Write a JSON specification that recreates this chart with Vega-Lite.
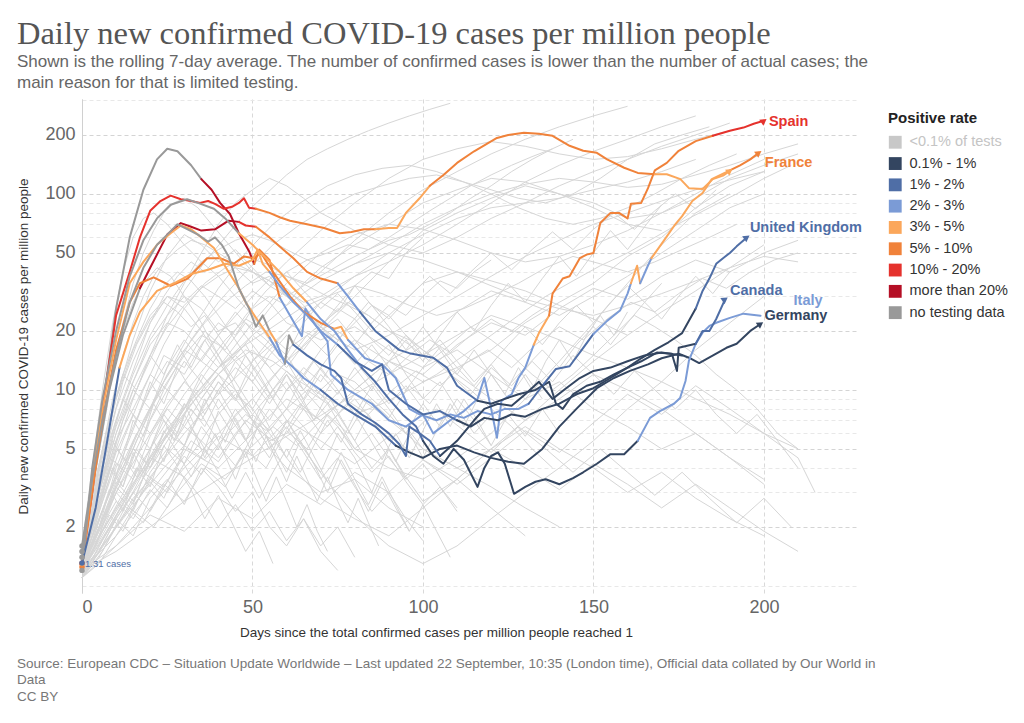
{
  "$schema": "https://vega.github.io/schema/vega-lite/v6.json",
  "background": "white",
  "padding": {"left": 16, "top": 17, "right": 5, "bottom": 5},
  "config": {"font": "Liberation Sans", "view": {"stroke": null}},
  "title": {
    "text": ["Source: European CDC – Situation Update Worldwide – Last updated 22 September, 10:35 (London time), Official data collated by Our World in", "Data", "CC BY"],
    "orient": "bottom", "anchor": "start", "frame": "bounds",
    "fontSize": 13.5, "fontWeight": "normal", "color": "#777", "lineHeight": 16.5, "offset": 18
  },
  "datasets": {
    "highlight": [
      {"country":"Spain","part":1,"rate":"no testing data","day":0,"cases":1.6},
      {"country":"Spain","part":1,"rate":"no testing data","day":3,"cases":3.5},
      {"country":"Spain","part":1,"rate":"no testing data","day":6,"cases":8},
      {"country":"Spain","part":1,"rate":"no testing data","day":10,"cases":26},
      {"country":"Spain","part":1,"rate":"no testing data","day":14,"cases":60},
      {"country":"Spain","part":1,"rate":"no testing data","day":18,"cases":105},
      {"country":"Spain","part":1,"rate":"no testing data","day":22,"cases":150},
      {"country":"Spain","part":1,"rate":"no testing data","day":25,"cases":170},
      {"country":"Spain","part":1,"rate":"no testing data","day":28,"cases":165},
      {"country":"Spain","part":1,"rate":"no testing data","day":32,"cases":140},
      {"country":"Spain","part":1,"rate":"no testing data","day":35,"cases":119},
      {"country":"Spain","part":2,"rate":"more than 20%","day":35,"cases":119},
      {"country":"Spain","part":2,"rate":"more than 20%","day":38,"cases":105},
      {"country":"Spain","part":2,"rate":"more than 20%","day":40.5,"cases":90},
      {"country":"Spain","part":2,"rate":"more than 20%","day":43.4,"cases":79},
      {"country":"Spain","part":2,"rate":"more than 20%","day":46,"cases":63},
      {"country":"Spain","part":2,"rate":"more than 20%","day":49,"cases":51},
      {"country":"Spain","part":2,"rate":"more than 20%","day":50.5,"cases":44},
      {"country":"Spain","part":3,"rate":"5% - 10%","day":50.5,"cases":44},
      {"country":"Spain","part":3,"rate":"5% - 10%","day":52,"cases":52},
      {"country":"Spain","part":3,"rate":"5% - 10%","day":55,"cases":46},
      {"country":"Spain","part":3,"rate":"5% - 10%","day":58,"cases":29.5},
      {"country":"Spain","part":4,"rate":"2% - 3%","day":58,"cases":29.5},
      {"country":"Spain","part":4,"rate":"2% - 3%","day":61,"cases":24},
      {"country":"Spain","part":4,"rate":"2% - 3%","day":64.5,"cases":18.8},
      {"country":"Spain","part":4,"rate":"2% - 3%","day":65.5,"cases":26},
      {"country":"Spain","part":4,"rate":"2% - 3%","day":68,"cases":22},
      {"country":"Spain","part":4,"rate":"2% - 3%","day":72,"cases":17.7},
      {"country":"Spain","part":4,"rate":"2% - 3%","day":73,"cases":12},
      {"country":"Spain","part":4,"rate":"2% - 3%","day":78,"cases":10},
      {"country":"Spain","part":4,"rate":"2% - 3%","day":85,"cases":8.5},
      {"country":"Spain","part":4,"rate":"2% - 3%","day":90,"cases":7},
      {"country":"Spain","part":4,"rate":"2% - 3%","day":95,"cases":6.5},
      {"country":"Spain","part":4,"rate":"2% - 3%","day":100,"cases":7.5},
      {"country":"Spain","part":4,"rate":"2% - 3%","day":103,"cases":6},
      {"country":"Spain","part":4,"rate":"2% - 3%","day":108,"cases":7},
      {"country":"Spain","part":4,"rate":"2% - 3%","day":112,"cases":7.8},
      {"country":"Spain","part":4,"rate":"2% - 3%","day":116,"cases":9},
      {"country":"Spain","part":4,"rate":"2% - 3%","day":118,"cases":11.5},
      {"country":"Spain","part":4,"rate":"2% - 3%","day":120,"cases":8},
      {"country":"Spain","part":4,"rate":"2% - 3%","day":121.7,"cases":5.7},
      {"country":"Spain","part":4,"rate":"2% - 3%","day":123,"cases":8.8},
      {"country":"Spain","part":4,"rate":"2% - 3%","day":126,"cases":9.5},
      {"country":"Spain","part":4,"rate":"2% - 3%","day":128,"cases":11.5},
      {"country":"Spain","part":4,"rate":"2% - 3%","day":130,"cases":13},
      {"country":"Spain","part":4,"rate":"2% - 3%","day":132.5,"cases":17},
      {"country":"Spain","part":5,"rate":"3% - 5%","day":132.5,"cases":17},
      {"country":"Spain","part":5,"rate":"3% - 5%","day":134,"cases":19.5},
      {"country":"Spain","part":5,"rate":"3% - 5%","day":137,"cases":24},
      {"country":"Spain","part":6,"rate":"5% - 10%","day":137,"cases":24},
      {"country":"Spain","part":6,"rate":"5% - 10%","day":138,"cases":31},
      {"country":"Spain","part":6,"rate":"5% - 10%","day":141,"cases":37},
      {"country":"Spain","part":6,"rate":"5% - 10%","day":143,"cases":38},
      {"country":"Spain","part":6,"rate":"5% - 10%","day":146,"cases":47},
      {"country":"Spain","part":6,"rate":"5% - 10%","day":148,"cases":49},
      {"country":"Spain","part":6,"rate":"5% - 10%","day":150,"cases":50},
      {"country":"Spain","part":6,"rate":"5% - 10%","day":152,"cases":71},
      {"country":"Spain","part":6,"rate":"5% - 10%","day":155,"cases":80},
      {"country":"Spain","part":6,"rate":"5% - 10%","day":157.5,"cases":80},
      {"country":"Spain","part":6,"rate":"5% - 10%","day":160,"cases":75},
      {"country":"Spain","part":6,"rate":"5% - 10%","day":161,"cases":89},
      {"country":"Spain","part":6,"rate":"5% - 10%","day":164,"cases":90},
      {"country":"Spain","part":6,"rate":"5% - 10%","day":166,"cases":107},
      {"country":"Spain","part":6,"rate":"5% - 10%","day":168,"cases":132},
      {"country":"Spain","part":6,"rate":"5% - 10%","day":171.5,"cases":144},
      {"country":"Spain","part":6,"rate":"5% - 10%","day":175,"cases":166},
      {"country":"Spain","part":6,"rate":"5% - 10%","day":180,"cases":186},
      {"country":"Spain","part":6,"rate":"5% - 10%","day":185,"cases":198},
      {"country":"Spain","part":7,"rate":"10% - 20%","day":185,"cases":198},
      {"country":"Spain","part":7,"rate":"10% - 20%","day":190,"cases":210},
      {"country":"Spain","part":7,"rate":"10% - 20%","day":194,"cases":218},
      {"country":"Spain","part":7,"rate":"10% - 20%","day":197,"cases":228},
      {"country":"Spain","part":7,"rate":"10% - 20%","day":200,"cases":236},

      {"country":"United States","part":1,"rate":"10% - 20%","day":0,"cases":1.3},
      {"country":"United States","part":1,"rate":"10% - 20%","day":3,"cases":3},
      {"country":"United States","part":1,"rate":"10% - 20%","day":6,"cases":8},
      {"country":"United States","part":1,"rate":"10% - 20%","day":10,"cases":24},
      {"country":"United States","part":1,"rate":"10% - 20%","day":14,"cases":40},
      {"country":"United States","part":1,"rate":"10% - 20%","day":17,"cases":60},
      {"country":"United States","part":1,"rate":"10% - 20%","day":20,"cases":82},
      {"country":"United States","part":1,"rate":"10% - 20%","day":23,"cases":92},
      {"country":"United States","part":1,"rate":"10% - 20%","day":26,"cases":98},
      {"country":"United States","part":1,"rate":"10% - 20%","day":29,"cases":94},
      {"country":"United States","part":1,"rate":"10% - 20%","day":32,"cases":92},
      {"country":"United States","part":1,"rate":"10% - 20%","day":34.6,"cases":90},
      {"country":"United States","part":1,"rate":"10% - 20%","day":37,"cases":92},
      {"country":"United States","part":1,"rate":"10% - 20%","day":39,"cases":89},
      {"country":"United States","part":1,"rate":"10% - 20%","day":41.6,"cases":84},
      {"country":"United States","part":1,"rate":"10% - 20%","day":44,"cases":86},
      {"country":"United States","part":1,"rate":"10% - 20%","day":46,"cases":90},
      {"country":"United States","part":1,"rate":"10% - 20%","day":47.5,"cases":95},
      {"country":"United States","part":1,"rate":"10% - 20%","day":49,"cases":85},
      {"country":"United States","part":1,"rate":"10% - 20%","day":51,"cases":84},
      {"country":"United States","part":2,"rate":"5% - 10%","day":51,"cases":84},
      {"country":"United States","part":2,"rate":"5% - 10%","day":55,"cases":80},
      {"country":"United States","part":2,"rate":"5% - 10%","day":58,"cases":76},
      {"country":"United States","part":2,"rate":"5% - 10%","day":61,"cases":73},
      {"country":"United States","part":2,"rate":"5% - 10%","day":66,"cases":70},
      {"country":"United States","part":2,"rate":"5% - 10%","day":71,"cases":67},
      {"country":"United States","part":2,"rate":"5% - 10%","day":75.6,"cases":63},
      {"country":"United States","part":2,"rate":"5% - 10%","day":79,"cases":64},
      {"country":"United States","part":2,"rate":"5% - 10%","day":82.7,"cases":66},
      {"country":"United States","part":2,"rate":"5% - 10%","day":86,"cases":66},
      {"country":"United States","part":3,"rate":"3% - 5%","day":86,"cases":66},
      {"country":"United States","part":3,"rate":"3% - 5%","day":90,"cases":67},
      {"country":"United States","part":3,"rate":"3% - 5%","day":92.4,"cases":67},
      {"country":"United States","part":3,"rate":"3% - 5%","day":95,"cases":80},
      {"country":"United States","part":3,"rate":"3% - 5%","day":99,"cases":95},
      {"country":"United States","part":3,"rate":"3% - 5%","day":102,"cases":110},
      {"country":"United States","part":4,"rate":"5% - 10%","day":102,"cases":110},
      {"country":"United States","part":4,"rate":"5% - 10%","day":106,"cases":125},
      {"country":"United States","part":4,"rate":"5% - 10%","day":110,"cases":144},
      {"country":"United States","part":4,"rate":"5% - 10%","day":115,"cases":165},
      {"country":"United States","part":4,"rate":"5% - 10%","day":121.7,"cases":193},
      {"country":"United States","part":4,"rate":"5% - 10%","day":125,"cases":200},
      {"country":"United States","part":4,"rate":"5% - 10%","day":129.6,"cases":205},
      {"country":"United States","part":4,"rate":"5% - 10%","day":134,"cases":203},
      {"country":"United States","part":4,"rate":"5% - 10%","day":138,"cases":198},
      {"country":"United States","part":4,"rate":"5% - 10%","day":143,"cases":176},
      {"country":"United States","part":4,"rate":"5% - 10%","day":147,"cases":166},
      {"country":"United States","part":4,"rate":"5% - 10%","day":151,"cases":162},
      {"country":"United States","part":4,"rate":"5% - 10%","day":154,"cases":150},
      {"country":"United States","part":4,"rate":"5% - 10%","day":159,"cases":136},
      {"country":"United States","part":4,"rate":"5% - 10%","day":163,"cases":128},
      {"country":"United States","part":4,"rate":"5% - 10%","day":168,"cases":126},
      {"country":"United States","part":5,"rate":"3% - 5%","day":168,"cases":126},
      {"country":"United States","part":5,"rate":"3% - 5%","day":171.5,"cases":126},
      {"country":"United States","part":5,"rate":"3% - 5%","day":175.5,"cases":119},
      {"country":"United States","part":5,"rate":"3% - 5%","day":178,"cases":107},
      {"country":"United States","part":5,"rate":"3% - 5%","day":182,"cases":106},
      {"country":"United States","part":5,"rate":"3% - 5%","day":185,"cases":119},
      {"country":"United States","part":5,"rate":"3% - 5%","day":188,"cases":124},
      {"country":"United States","part":5,"rate":"3% - 5%","day":190,"cases":131},

      {"country":"United Kingdom","part":1,"rate":"no testing data","day":0,"cases":1.5},
      {"country":"United Kingdom","part":1,"rate":"no testing data","day":4,"cases":4},
      {"country":"United Kingdom","part":1,"rate":"no testing data","day":8,"cases":10},
      {"country":"United Kingdom","part":1,"rate":"no testing data","day":12,"cases":19},
      {"country":"United Kingdom","part":1,"rate":"no testing data","day":17,"cases":33},
      {"country":"United Kingdom","part":2,"rate":"more than 20%","day":17,"cases":33},
      {"country":"United Kingdom","part":2,"rate":"more than 20%","day":20,"cases":42},
      {"country":"United Kingdom","part":2,"rate":"more than 20%","day":25,"cases":62},
      {"country":"United Kingdom","part":2,"rate":"more than 20%","day":29,"cases":71},
      {"country":"United Kingdom","part":2,"rate":"more than 20%","day":32,"cases":68},
      {"country":"United Kingdom","part":2,"rate":"more than 20%","day":35,"cases":65},
      {"country":"United Kingdom","part":2,"rate":"more than 20%","day":39,"cases":66},
      {"country":"United Kingdom","part":2,"rate":"more than 20%","day":43,"cases":73},
      {"country":"United Kingdom","part":2,"rate":"more than 20%","day":46,"cases":72},
      {"country":"United Kingdom","part":3,"rate":"10% - 20%","day":46,"cases":72},
      {"country":"United Kingdom","part":3,"rate":"10% - 20%","day":48,"cases":69},
      {"country":"United Kingdom","part":3,"rate":"10% - 20%","day":51,"cases":68},
      {"country":"United Kingdom","part":4,"rate":"5% - 10%","day":51,"cases":68},
      {"country":"United Kingdom","part":4,"rate":"5% - 10%","day":55,"cases":60},
      {"country":"United Kingdom","part":4,"rate":"5% - 10%","day":59,"cases":52},
      {"country":"United Kingdom","part":4,"rate":"5% - 10%","day":62,"cases":47},
      {"country":"United Kingdom","part":4,"rate":"5% - 10%","day":66,"cases":40},
      {"country":"United Kingdom","part":4,"rate":"5% - 10%","day":70,"cases":37},
      {"country":"United Kingdom","part":4,"rate":"5% - 10%","day":75,"cases":35},
      {"country":"United Kingdom","part":5,"rate":"2% - 3%","day":75,"cases":35},
      {"country":"United Kingdom","part":5,"rate":"2% - 3%","day":78,"cases":30},
      {"country":"United Kingdom","part":5,"rate":"2% - 3%","day":81.5,"cases":25},
      {"country":"United Kingdom","part":6,"rate":"1% - 2%","day":81.5,"cases":25},
      {"country":"United Kingdom","part":6,"rate":"1% - 2%","day":86,"cases":20},
      {"country":"United Kingdom","part":6,"rate":"1% - 2%","day":93,"cases":16},
      {"country":"United Kingdom","part":6,"rate":"1% - 2%","day":96,"cases":15.4},
      {"country":"United Kingdom","part":6,"rate":"1% - 2%","day":103,"cases":14.6},
      {"country":"United Kingdom","part":6,"rate":"1% - 2%","day":107,"cases":13},
      {"country":"United Kingdom","part":6,"rate":"1% - 2%","day":110,"cases":10.5},
      {"country":"United Kingdom","part":6,"rate":"1% - 2%","day":116,"cases":8.8},
      {"country":"United Kingdom","part":7,"rate":"0.1% - 1%","day":116,"cases":8.8},
      {"country":"United Kingdom","part":7,"rate":"0.1% - 1%","day":120,"cases":8.5},
      {"country":"United Kingdom","part":7,"rate":"0.1% - 1%","day":124,"cases":9},
      {"country":"United Kingdom","part":7,"rate":"0.1% - 1%","day":128,"cases":9.5},
      {"country":"United Kingdom","part":7,"rate":"0.1% - 1%","day":133,"cases":10},
      {"country":"United Kingdom","part":7,"rate":"0.1% - 1%","day":137,"cases":11},
      {"country":"United Kingdom","part":7,"rate":"0.1% - 1%","day":139,"cases":8.5},
      {"country":"United Kingdom","part":7,"rate":"0.1% - 1%","day":141,"cases":8},
      {"country":"United Kingdom","part":7,"rate":"0.1% - 1%","day":144,"cases":9.5},
      {"country":"United Kingdom","part":7,"rate":"0.1% - 1%","day":148,"cases":10.5},
      {"country":"United Kingdom","part":7,"rate":"0.1% - 1%","day":152,"cases":11},
      {"country":"United Kingdom","part":7,"rate":"0.1% - 1%","day":156,"cases":12},
      {"country":"United Kingdom","part":7,"rate":"0.1% - 1%","day":160,"cases":13},
      {"country":"United Kingdom","part":7,"rate":"0.1% - 1%","day":164,"cases":14.5},
      {"country":"United Kingdom","part":7,"rate":"0.1% - 1%","day":168,"cases":16},
      {"country":"United Kingdom","part":7,"rate":"0.1% - 1%","day":172,"cases":17.5},
      {"country":"United Kingdom","part":7,"rate":"0.1% - 1%","day":176,"cases":19.5},
      {"country":"United Kingdom","part":7,"rate":"0.1% - 1%","day":180,"cases":26},
      {"country":"United Kingdom","part":8,"rate":"1% - 2%","day":180,"cases":26},
      {"country":"United Kingdom","part":8,"rate":"1% - 2%","day":182,"cases":32},
      {"country":"United Kingdom","part":8,"rate":"1% - 2%","day":184,"cases":37},
      {"country":"United Kingdom","part":8,"rate":"1% - 2%","day":186,"cases":44},
      {"country":"United Kingdom","part":8,"rate":"1% - 2%","day":188,"cases":47},
      {"country":"United Kingdom","part":8,"rate":"1% - 2%","day":190,"cases":50},
      {"country":"United Kingdom","part":8,"rate":"1% - 2%","day":192,"cases":54},
      {"country":"United Kingdom","part":8,"rate":"1% - 2%","day":195,"cases":60},

      {"country":"France","part":1,"rate":"5% - 10%","day":0,"cases":1.25},
      {"country":"France","part":1,"rate":"5% - 10%","day":3,"cases":3},
      {"country":"France","part":1,"rate":"5% - 10%","day":6,"cases":7},
      {"country":"France","part":1,"rate":"5% - 10%","day":10,"cases":16},
      {"country":"France","part":1,"rate":"5% - 10%","day":14,"cases":28},
      {"country":"France","part":1,"rate":"5% - 10%","day":17,"cases":35},
      {"country":"France","part":1,"rate":"5% - 10%","day":21,"cases":37.5},
      {"country":"France","part":1,"rate":"5% - 10%","day":26,"cases":34},
      {"country":"France","part":1,"rate":"5% - 10%","day":31,"cases":37},
      {"country":"France","part":1,"rate":"5% - 10%","day":36.7,"cases":47},
      {"country":"France","part":1,"rate":"5% - 10%","day":40.5,"cases":47},
      {"country":"France","part":1,"rate":"5% - 10%","day":44.5,"cases":44},
      {"country":"France","part":1,"rate":"5% - 10%","day":47.5,"cases":48},
      {"country":"France","part":1,"rate":"5% - 10%","day":50.5,"cases":47},
      {"country":"France","part":1,"rate":"5% - 10%","day":52.5,"cases":50},
      {"country":"France","part":1,"rate":"5% - 10%","day":56,"cases":40},
      {"country":"France","part":1,"rate":"5% - 10%","day":61,"cases":30},
      {"country":"France","part":1,"rate":"5% - 10%","day":65,"cases":25},
      {"country":"France","part":1,"rate":"5% - 10%","day":70,"cases":22},
      {"country":"France","part":1,"rate":"5% - 10%","day":74,"cases":20.5},
      {"country":"France","part":2,"rate":"3% - 5%","day":74,"cases":20.5},
      {"country":"France","part":2,"rate":"3% - 5%","day":76,"cases":21},
      {"country":"France","part":2,"rate":"3% - 5%","day":78,"cases":18},
      {"country":"France","part":3,"rate":"2% - 3%","day":78,"cases":18},
      {"country":"France","part":3,"rate":"2% - 3%","day":83,"cases":14.5},
      {"country":"France","part":3,"rate":"2% - 3%","day":88,"cases":13.5},
      {"country":"France","part":3,"rate":"2% - 3%","day":92,"cases":11.5},
      {"country":"France","part":3,"rate":"2% - 3%","day":96,"cases":8},
      {"country":"France","part":3,"rate":"2% - 3%","day":99,"cases":7.5},
      {"country":"France","part":3,"rate":"2% - 3%","day":104,"cases":7},
      {"country":"France","part":3,"rate":"2% - 3%","day":108,"cases":7.5},
      {"country":"France","part":3,"rate":"2% - 3%","day":112,"cases":7.2},
      {"country":"France","part":3,"rate":"2% - 3%","day":116,"cases":7.8},
      {"country":"France","part":3,"rate":"2% - 3%","day":120,"cases":7.5},
      {"country":"France","part":3,"rate":"2% - 3%","day":124,"cases":8},
      {"country":"France","part":3,"rate":"2% - 3%","day":128,"cases":8},
      {"country":"France","part":3,"rate":"2% - 3%","day":131,"cases":8.5},
      {"country":"France","part":4,"rate":"1% - 2%","day":131,"cases":8.5},
      {"country":"France","part":4,"rate":"1% - 2%","day":135,"cases":10.5},
      {"country":"France","part":4,"rate":"1% - 2%","day":139,"cases":12.8},
      {"country":"France","part":4,"rate":"1% - 2%","day":143,"cases":13.2},
      {"country":"France","part":4,"rate":"1% - 2%","day":147,"cases":16.4},
      {"country":"France","part":4,"rate":"1% - 2%","day":150,"cases":19.3},
      {"country":"France","part":5,"rate":"2% - 3%","day":150,"cases":19.3},
      {"country":"France","part":5,"rate":"2% - 3%","day":154,"cases":22.5},
      {"country":"France","part":5,"rate":"2% - 3%","day":157.8,"cases":25.4},
      {"country":"France","part":5,"rate":"2% - 3%","day":160,"cases":31},
      {"country":"France","part":5,"rate":"2% - 3%","day":161,"cases":35},
      {"country":"France","part":6,"rate":"3% - 5%","day":161,"cases":35},
      {"country":"France","part":6,"rate":"3% - 5%","day":162.8,"cases":43},
      {"country":"France","part":6,"rate":"3% - 5%","day":163.7,"cases":35},
      {"country":"France","part":7,"rate":"2% - 3%","day":163.7,"cases":35},
      {"country":"France","part":7,"rate":"2% - 3%","day":165.7,"cases":42},
      {"country":"France","part":7,"rate":"2% - 3%","day":167,"cases":47},
      {"country":"France","part":8,"rate":"3% - 5%","day":167,"cases":47},
      {"country":"France","part":8,"rate":"3% - 5%","day":170.6,"cases":57.6},
      {"country":"France","part":8,"rate":"3% - 5%","day":174,"cases":70},
      {"country":"France","part":8,"rate":"3% - 5%","day":176,"cases":77},
      {"country":"France","part":8,"rate":"3% - 5%","day":179,"cases":92},
      {"country":"France","part":8,"rate":"3% - 5%","day":182,"cases":101},
      {"country":"France","part":8,"rate":"3% - 5%","day":184.7,"cases":119},
      {"country":"France","part":8,"rate":"3% - 5%","day":189.7,"cases":131},
      {"country":"France","part":9,"rate":"5% - 10%","day":189.7,"cases":131},
      {"country":"France","part":9,"rate":"5% - 10%","day":193,"cases":140},
      {"country":"France","part":9,"rate":"5% - 10%","day":196,"cases":150},
      {"country":"France","part":9,"rate":"5% - 10%","day":198.5,"cases":162},

      {"country":"Germany","part":1,"rate":"3% - 5%","day":0,"cases":1.3},
      {"country":"Germany","part":1,"rate":"3% - 5%","day":3,"cases":3.5},
      {"country":"Germany","part":1,"rate":"3% - 5%","day":6,"cases":8},
      {"country":"Germany","part":1,"rate":"3% - 5%","day":10,"cases":18},
      {"country":"Germany","part":1,"rate":"3% - 5%","day":14,"cases":35},
      {"country":"Germany","part":1,"rate":"3% - 5%","day":18,"cases":45},
      {"country":"Germany","part":1,"rate":"3% - 5%","day":22,"cases":55},
      {"country":"Germany","part":1,"rate":"3% - 5%","day":26,"cases":63},
      {"country":"Germany","part":1,"rate":"3% - 5%","day":29,"cases":69},
      {"country":"Germany","part":1,"rate":"3% - 5%","day":32,"cases":66},
      {"country":"Germany","part":1,"rate":"3% - 5%","day":35,"cases":60},
      {"country":"Germany","part":1,"rate":"3% - 5%","day":38.7,"cases":53},
      {"country":"Germany","part":1,"rate":"3% - 5%","day":43,"cases":40},
      {"country":"Germany","part":1,"rate":"3% - 5%","day":46,"cases":33},
      {"country":"Germany","part":1,"rate":"3% - 5%","day":48,"cases":28},
      {"country":"Germany","part":1,"rate":"3% - 5%","day":52,"cases":22},
      {"country":"Germany","part":1,"rate":"3% - 5%","day":55,"cases":18.5},
      {"country":"Germany","part":2,"rate":"2% - 3%","day":55,"cases":18.5},
      {"country":"Germany","part":2,"rate":"2% - 3%","day":58,"cases":15},
      {"country":"Germany","part":2,"rate":"2% - 3%","day":62,"cases":13},
      {"country":"Germany","part":2,"rate":"2% - 3%","day":65,"cases":11.5},
      {"country":"Germany","part":2,"rate":"2% - 3%","day":70,"cases":10},
      {"country":"Germany","part":3,"rate":"1% - 2%","day":70,"cases":10},
      {"country":"Germany","part":3,"rate":"1% - 2%","day":75,"cases":8.5},
      {"country":"Germany","part":3,"rate":"1% - 2%","day":80,"cases":7.5},
      {"country":"Germany","part":3,"rate":"1% - 2%","day":86,"cases":6.5},
      {"country":"Germany","part":3,"rate":"1% - 2%","day":92,"cases":5.2},
      {"country":"Germany","part":4,"rate":"0.1% - 1%","day":92,"cases":5.2},
      {"country":"Germany","part":4,"rate":"0.1% - 1%","day":96,"cases":4.8},
      {"country":"Germany","part":4,"rate":"0.1% - 1%","day":100,"cases":4.5},
      {"country":"Germany","part":4,"rate":"0.1% - 1%","day":105,"cases":5},
      {"country":"Germany","part":4,"rate":"0.1% - 1%","day":110,"cases":5.2},
      {"country":"Germany","part":4,"rate":"0.1% - 1%","day":115,"cases":4.8},
      {"country":"Germany","part":4,"rate":"0.1% - 1%","day":120,"cases":4.5},
      {"country":"Germany","part":4,"rate":"0.1% - 1%","day":125,"cases":4.3},
      {"country":"Germany","part":4,"rate":"0.1% - 1%","day":129.6,"cases":4.2},
      {"country":"Germany","part":4,"rate":"0.1% - 1%","day":135,"cases":5},
      {"country":"Germany","part":4,"rate":"0.1% - 1%","day":140,"cases":6.5},
      {"country":"Germany","part":4,"rate":"0.1% - 1%","day":145,"cases":8},
      {"country":"Germany","part":4,"rate":"0.1% - 1%","day":151,"cases":10.2},
      {"country":"Germany","part":4,"rate":"0.1% - 1%","day":156,"cases":11.5},
      {"country":"Germany","part":4,"rate":"0.1% - 1%","day":160.7,"cases":12.5},
      {"country":"Germany","part":4,"rate":"0.1% - 1%","day":166,"cases":13.5},
      {"country":"Germany","part":4,"rate":"0.1% - 1%","day":170,"cases":14.5},
      {"country":"Germany","part":4,"rate":"0.1% - 1%","day":175,"cases":15.3},
      {"country":"Germany","part":4,"rate":"0.1% - 1%","day":178,"cases":14.6},
      {"country":"Germany","part":4,"rate":"0.1% - 1%","day":181,"cases":13.7},
      {"country":"Germany","part":4,"rate":"0.1% - 1%","day":186,"cases":15.3},
      {"country":"Germany","part":4,"rate":"0.1% - 1%","day":189,"cases":16.4},
      {"country":"Germany","part":4,"rate":"0.1% - 1%","day":192,"cases":17.2},
      {"country":"Germany","part":4,"rate":"0.1% - 1%","day":196,"cases":20},
      {"country":"Germany","part":4,"rate":"0.1% - 1%","day":199,"cases":21.7},

      {"country":"Italy","part":1,"rate":"no testing data","day":0,"cases":1.2},
      {"country":"Italy","part":1,"rate":"no testing data","day":3,"cases":4},
      {"country":"Italy","part":1,"rate":"no testing data","day":6,"cases":9},
      {"country":"Italy","part":1,"rate":"no testing data","day":10,"cases":20},
      {"country":"Italy","part":1,"rate":"no testing data","day":14,"cases":38},
      {"country":"Italy","part":1,"rate":"no testing data","day":18,"cases":58},
      {"country":"Italy","part":1,"rate":"no testing data","day":22,"cases":75},
      {"country":"Italy","part":1,"rate":"no testing data","day":26,"cases":88},
      {"country":"Italy","part":1,"rate":"no testing data","day":30.8,"cases":94},
      {"country":"Italy","part":1,"rate":"no testing data","day":34,"cases":90},
      {"country":"Italy","part":1,"rate":"no testing data","day":38.7,"cases":84},
      {"country":"Italy","part":1,"rate":"no testing data","day":42,"cases":75},
      {"country":"Italy","part":1,"rate":"no testing data","day":46,"cases":63},
      {"country":"Italy","part":2,"rate":"3% - 5%","day":46,"cases":63},
      {"country":"Italy","part":2,"rate":"3% - 5%","day":50,"cases":55},
      {"country":"Italy","part":2,"rate":"3% - 5%","day":54,"cases":47},
      {"country":"Italy","part":2,"rate":"3% - 5%","day":58,"cases":40},
      {"country":"Italy","part":2,"rate":"3% - 5%","day":62,"cases":33},
      {"country":"Italy","part":2,"rate":"3% - 5%","day":66,"cases":28},
      {"country":"Italy","part":3,"rate":"2% - 3%","day":66,"cases":28},
      {"country":"Italy","part":3,"rate":"2% - 3%","day":70,"cases":23},
      {"country":"Italy","part":3,"rate":"2% - 3%","day":74,"cases":20},
      {"country":"Italy","part":3,"rate":"2% - 3%","day":78,"cases":16},
      {"country":"Italy","part":3,"rate":"2% - 3%","day":82,"cases":13},
      {"country":"Italy","part":4,"rate":"1% - 2%","day":82,"cases":13},
      {"country":"Italy","part":4,"rate":"1% - 2%","day":86,"cases":11},
      {"country":"Italy","part":4,"rate":"1% - 2%","day":90,"cases":9},
      {"country":"Italy","part":4,"rate":"1% - 2%","day":94,"cases":7.5},
      {"country":"Italy","part":4,"rate":"1% - 2%","day":98,"cases":6.5},
      {"country":"Italy","part":4,"rate":"1% - 2%","day":100,"cases":5.5},
      {"country":"Italy","part":5,"rate":"0.1% - 1%","day":100,"cases":5.5},
      {"country":"Italy","part":5,"rate":"0.1% - 1%","day":103,"cases":4.6},
      {"country":"Italy","part":5,"rate":"0.1% - 1%","day":106,"cases":4.2},
      {"country":"Italy","part":5,"rate":"0.1% - 1%","day":109,"cases":5},
      {"country":"Italy","part":5,"rate":"0.1% - 1%","day":112,"cases":4.4},
      {"country":"Italy","part":5,"rate":"0.1% - 1%","day":116,"cases":3.2},
      {"country":"Italy","part":5,"rate":"0.1% - 1%","day":118,"cases":4},
      {"country":"Italy","part":5,"rate":"0.1% - 1%","day":120,"cases":4.6},
      {"country":"Italy","part":5,"rate":"0.1% - 1%","day":122,"cases":4.8},
      {"country":"Italy","part":5,"rate":"0.1% - 1%","day":124,"cases":4.2},
      {"country":"Italy","part":5,"rate":"0.1% - 1%","day":126.7,"cases":2.95},
      {"country":"Italy","part":5,"rate":"0.1% - 1%","day":130,"cases":3.2},
      {"country":"Italy","part":5,"rate":"0.1% - 1%","day":133,"cases":3.4},
      {"country":"Italy","part":5,"rate":"0.1% - 1%","day":136,"cases":3.5},
      {"country":"Italy","part":5,"rate":"0.1% - 1%","day":140,"cases":3.3},
      {"country":"Italy","part":5,"rate":"0.1% - 1%","day":144,"cases":3.55},
      {"country":"Italy","part":5,"rate":"0.1% - 1%","day":147,"cases":3.8},
      {"country":"Italy","part":5,"rate":"0.1% - 1%","day":151,"cases":4.2},
      {"country":"Italy","part":5,"rate":"0.1% - 1%","day":155,"cases":4.7},
      {"country":"Italy","part":5,"rate":"0.1% - 1%","day":159,"cases":4.7},
      {"country":"Italy","part":5,"rate":"0.1% - 1%","day":163,"cases":5.5},
      {"country":"Italy","part":6,"rate":"2% - 3%","day":163,"cases":5.5},
      {"country":"Italy","part":6,"rate":"2% - 3%","day":166.6,"cases":7.2},
      {"country":"Italy","part":6,"rate":"2% - 3%","day":169.5,"cases":7.8},
      {"country":"Italy","part":6,"rate":"2% - 3%","day":173.6,"cases":8.5},
      {"country":"Italy","part":6,"rate":"2% - 3%","day":175.4,"cases":9.1},
      {"country":"Italy","part":6,"rate":"2% - 3%","day":177,"cases":11.1},
      {"country":"Italy","part":6,"rate":"2% - 3%","day":178,"cases":14.1},
      {"country":"Italy","part":6,"rate":"2% - 3%","day":180,"cases":17.2},
      {"country":"Italy","part":6,"rate":"2% - 3%","day":182,"cases":19.6},
      {"country":"Italy","part":6,"rate":"2% - 3%","day":184,"cases":21.2},
      {"country":"Italy","part":6,"rate":"2% - 3%","day":186,"cases":22},
      {"country":"Italy","part":6,"rate":"2% - 3%","day":190,"cases":23.3},
      {"country":"Italy","part":6,"rate":"2% - 3%","day":194,"cases":24.5},
      {"country":"Italy","part":6,"rate":"2% - 3%","day":199,"cases":23.9},

      {"country":"Canada","part":1,"rate":"1% - 2%","day":0,"cases":1.31},
      {"country":"Canada","part":1,"rate":"1% - 2%","day":4,"cases":2.5},
      {"country":"Canada","part":1,"rate":"1% - 2%","day":7.4,"cases":5.5},
      {"country":"Canada","part":1,"rate":"1% - 2%","day":11,"cases":13},
      {"country":"Canada","part":2,"rate":"3% - 5%","day":11,"cases":13},
      {"country":"Canada","part":2,"rate":"3% - 5%","day":14,"cases":19},
      {"country":"Canada","part":2,"rate":"3% - 5%","day":17,"cases":25},
      {"country":"Canada","part":2,"rate":"3% - 5%","day":22,"cases":32},
      {"country":"Canada","part":2,"rate":"3% - 5%","day":27,"cases":35},
      {"country":"Canada","part":2,"rate":"3% - 5%","day":32,"cases":39},
      {"country":"Canada","part":2,"rate":"3% - 5%","day":37,"cases":41},
      {"country":"Canada","part":2,"rate":"3% - 5%","day":42,"cases":44},
      {"country":"Canada","part":2,"rate":"3% - 5%","day":46,"cases":43},
      {"country":"Canada","part":2,"rate":"3% - 5%","day":50,"cases":46},
      {"country":"Canada","part":2,"rate":"3% - 5%","day":51.5,"cases":52},
      {"country":"Canada","part":2,"rate":"3% - 5%","day":53,"cases":44},
      {"country":"Canada","part":2,"rate":"3% - 5%","day":55,"cases":40},
      {"country":"Canada","part":3,"rate":"2% - 3%","day":55,"cases":40},
      {"country":"Canada","part":3,"rate":"2% - 3%","day":58,"cases":34},
      {"country":"Canada","part":3,"rate":"2% - 3%","day":62,"cases":28},
      {"country":"Canada","part":3,"rate":"2% - 3%","day":66,"cases":24},
      {"country":"Canada","part":3,"rate":"2% - 3%","day":70,"cases":20},
      {"country":"Canada","part":3,"rate":"2% - 3%","day":75,"cases":17},
      {"country":"Canada","part":4,"rate":"1% - 2%","day":75,"cases":17},
      {"country":"Canada","part":4,"rate":"1% - 2%","day":80,"cases":14},
      {"country":"Canada","part":4,"rate":"1% - 2%","day":85,"cases":12.5},
      {"country":"Canada","part":4,"rate":"1% - 2%","day":88,"cases":13.5},
      {"country":"Canada","part":4,"rate":"1% - 2%","day":90,"cases":10},
      {"country":"Canada","part":4,"rate":"1% - 2%","day":95,"cases":8.5},
      {"country":"Canada","part":4,"rate":"1% - 2%","day":100,"cases":7.5},
      {"country":"Canada","part":4,"rate":"1% - 2%","day":105,"cases":7.8},
      {"country":"Canada","part":4,"rate":"1% - 2%","day":110,"cases":7},
      {"country":"Canada","part":5,"rate":"0.1% - 1%","day":110,"cases":7},
      {"country":"Canada","part":5,"rate":"0.1% - 1%","day":114,"cases":6.5},
      {"country":"Canada","part":5,"rate":"0.1% - 1%","day":118,"cases":7.2},
      {"country":"Canada","part":5,"rate":"0.1% - 1%","day":122,"cases":7},
      {"country":"Canada","part":5,"rate":"0.1% - 1%","day":126,"cases":7.5},
      {"country":"Canada","part":5,"rate":"0.1% - 1%","day":130,"cases":7.3},
      {"country":"Canada","part":5,"rate":"0.1% - 1%","day":135,"cases":8},
      {"country":"Canada","part":5,"rate":"0.1% - 1%","day":140,"cases":8.5},
      {"country":"Canada","part":5,"rate":"0.1% - 1%","day":145,"cases":9.5},
      {"country":"Canada","part":5,"rate":"0.1% - 1%","day":150,"cases":10.2},
      {"country":"Canada","part":5,"rate":"0.1% - 1%","day":155,"cases":11.5},
      {"country":"Canada","part":5,"rate":"0.1% - 1%","day":160,"cases":13},
      {"country":"Canada","part":5,"rate":"0.1% - 1%","day":164,"cases":14},
      {"country":"Canada","part":5,"rate":"0.1% - 1%","day":168.6,"cases":15.5},
      {"country":"Canada","part":5,"rate":"0.1% - 1%","day":173,"cases":15.3},
      {"country":"Canada","part":5,"rate":"0.1% - 1%","day":174.5,"cases":12.5},
      {"country":"Canada","part":5,"rate":"0.1% - 1%","day":175,"cases":16.4},
      {"country":"Canada","part":5,"rate":"0.1% - 1%","day":180,"cases":17.2},
      {"country":"Canada","part":6,"rate":"1% - 2%","day":180,"cases":17.2},
      {"country":"Canada","part":6,"rate":"1% - 2%","day":182,"cases":20},
      {"country":"Canada","part":6,"rate":"1% - 2%","day":184,"cases":20},
      {"country":"Canada","part":6,"rate":"1% - 2%","day":186,"cases":23},
      {"country":"Canada","part":6,"rate":"1% - 2%","day":188.6,"cases":29},

      {"country":"Belgium","part":1,"rate":"no testing data","day":0,"cases":1.4},
      {"country":"Belgium","part":1,"rate":"no testing data","day":3,"cases":3.5},
      {"country":"Belgium","part":1,"rate":"no testing data","day":6,"cases":7},
      {"country":"Belgium","part":1,"rate":"no testing data","day":10,"cases":15},
      {"country":"Belgium","part":1,"rate":"no testing data","day":14,"cases":28},
      {"country":"Belgium","part":1,"rate":"no testing data","day":18,"cases":42},
      {"country":"Belgium","part":1,"rate":"no testing data","day":22,"cases":55},
      {"country":"Belgium","part":1,"rate":"no testing data","day":25,"cases":62},
      {"country":"Belgium","part":1,"rate":"no testing data","day":28,"cases":70},
      {"country":"Belgium","part":1,"rate":"no testing data","day":31,"cases":66},
      {"country":"Belgium","part":1,"rate":"no testing data","day":34,"cases":62},
      {"country":"Belgium","part":1,"rate":"no testing data","day":37,"cases":57},
      {"country":"Belgium","part":1,"rate":"no testing data","day":39,"cases":60},
      {"country":"Belgium","part":1,"rate":"no testing data","day":41,"cases":55},
      {"country":"Belgium","part":1,"rate":"no testing data","day":43,"cases":48},
      {"country":"Belgium","part":1,"rate":"no testing data","day":46,"cases":33},
      {"country":"Belgium","part":1,"rate":"no testing data","day":49,"cases":26},
      {"country":"Belgium","part":1,"rate":"no testing data","day":51,"cases":21},
      {"country":"Belgium","part":1,"rate":"no testing data","day":53,"cases":24},
      {"country":"Belgium","part":1,"rate":"no testing data","day":55,"cases":20},
      {"country":"Belgium","part":2,"rate":"3% - 5%","day":55,"cases":20},
      {"country":"Belgium","part":2,"rate":"3% - 5%","day":57,"cases":17.5},
      {"country":"Belgium","part":3,"rate":"2% - 3%","day":57,"cases":17.5},
      {"country":"Belgium","part":3,"rate":"2% - 3%","day":59.5,"cases":13.6},
      {"country":"Belgium","part":4,"rate":"no testing data","day":59.5,"cases":13.6},
      {"country":"Belgium","part":4,"rate":"no testing data","day":60.7,"cases":19},
      {"country":"Belgium","part":4,"rate":"no testing data","day":62,"cases":17},
      {"country":"Belgium","part":5,"rate":"1% - 2%","day":62,"cases":17},
      {"country":"Belgium","part":5,"rate":"1% - 2%","day":66,"cases":15},
      {"country":"Belgium","part":5,"rate":"1% - 2%","day":70,"cases":13.5},
      {"country":"Belgium","part":5,"rate":"1% - 2%","day":74,"cases":12.5},
      {"country":"Belgium","part":5,"rate":"1% - 2%","day":76,"cases":11.5},
      {"country":"Belgium","part":5,"rate":"1% - 2%","day":78,"cases":8.5},
      {"country":"Belgium","part":5,"rate":"1% - 2%","day":82,"cases":7.5},
      {"country":"Belgium","part":5,"rate":"1% - 2%","day":86,"cases":6.8},
      {"country":"Belgium","part":5,"rate":"1% - 2%","day":90,"cases":6},
      {"country":"Belgium","part":5,"rate":"1% - 2%","day":93,"cases":5.3},
      {"country":"Belgium","part":5,"rate":"1% - 2%","day":95,"cases":4.6},
      {"country":"Belgium","part":5,"rate":"1% - 2%","day":96,"cases":6.5},
      {"country":"Belgium","part":5,"rate":"1% - 2%","day":99,"cases":6},
      {"country":"Belgium","part":5,"rate":"1% - 2%","day":102,"cases":5.5},
      {"country":"Belgium","part":5,"rate":"1% - 2%","day":105,"cases":4.6},
      {"country":"Belgium","part":6,"rate":"0.1% - 1%","day":105,"cases":4.6},
      {"country":"Belgium","part":6,"rate":"0.1% - 1%","day":110,"cases":5.5},
      {"country":"Belgium","part":6,"rate":"0.1% - 1%","day":115,"cases":7},
      {"country":"Belgium","part":6,"rate":"0.1% - 1%","day":118,"cases":8},
      {"country":"Belgium","part":6,"rate":"0.1% - 1%","day":122,"cases":8.5},
      {"country":"Belgium","part":6,"rate":"0.1% - 1%","day":126,"cases":8.3},
      {"country":"Belgium","part":6,"rate":"0.1% - 1%","day":130,"cases":9.5},
      {"country":"Belgium","part":6,"rate":"0.1% - 1%","day":134,"cases":11},
      {"country":"Belgium","part":6,"rate":"0.1% - 1%","day":138,"cases":9},
      {"country":"Belgium","part":6,"rate":"0.1% - 1%","day":142,"cases":10.2},
      {"country":"Belgium","part":6,"rate":"0.1% - 1%","day":146,"cases":11.5},
      {"country":"Belgium","part":6,"rate":"0.1% - 1%","day":150,"cases":12.5},
      {"country":"Belgium","part":6,"rate":"0.1% - 1%","day":155,"cases":13},
      {"country":"Belgium","part":6,"rate":"0.1% - 1%","day":160,"cases":14},
      {"country":"Belgium","part":6,"rate":"0.1% - 1%","day":165,"cases":15},
      {"country":"Belgium","part":6,"rate":"0.1% - 1%","day":170,"cases":15.5},
      {"country":"Belgium","part":6,"rate":"0.1% - 1%","day":176,"cases":15}
    ],
    "others": [
      {"id":"g1","day":0,"cases":1.1},{"id":"g1","day":5,"cases":1.8},{"id":"g1","day":10,"cases":3.2},{"id":"g1","day":15,"cases":2.6},{"id":"g1","day":20,"cases":4.5},{"id":"g1","day":25,"cases":6},{"id":"g1","day":30,"cases":5.2},{"id":"g1","day":35,"cases":8},{"id":"g1","day":40,"cases":11},{"id":"g1","day":45,"cases":9},{"id":"g1","day":50,"cases":14},{"id":"g1","day":55,"cases":18},{"id":"g1","day":60,"cases":15},{"id":"g1","day":65,"cases":22},{"id":"g1","day":70,"cases":28},{"id":"g1","day":75,"cases":25},{"id":"g1","day":80,"cases":34},{"id":"g1","day":85,"cases":40},{"id":"g1","day":90,"cases":37},{"id":"g1","day":95,"cases":50},{"id":"g1","day":100,"cases":60},
      {"id":"g2","day":0,"cases":1.3},{"id":"g2","day":4,"cases":2.5},{"id":"g2","day":8,"cases":5},{"id":"g2","day":12,"cases":9},{"id":"g2","day":16,"cases":14},{"id":"g2","day":20,"cases":22},{"id":"g2","day":24,"cases":30},{"id":"g2","day":28,"cases":38},{"id":"g2","day":32,"cases":45},{"id":"g2","day":36,"cases":40},{"id":"g2","day":40,"cases":48},{"id":"g2","day":45,"cases":42},{"id":"g2","day":50,"cases":35},{"id":"g2","day":55,"cases":38},{"id":"g2","day":60,"cases":30},{"id":"g2","day":65,"cases":26},{"id":"g2","day":70,"cases":20},{"id":"g2","day":75,"cases":23},{"id":"g2","day":80,"cases":18},{"id":"g2","day":90,"cases":14},{"id":"g2","day":100,"cases":11},{"id":"g2","day":110,"cases":13},{"id":"g2","day":120,"cases":16},{"id":"g2","day":130,"cases":22},{"id":"g2","day":140,"cases":28},{"id":"g2","day":150,"cases":35},{"id":"g2","day":160,"cases":48},{"id":"g2","day":170,"cases":60},{"id":"g2","day":180,"cases":85},{"id":"g2","day":190,"cases":110},{"id":"g2","day":200,"cases":130},
      {"id":"g3","day":0,"cases":1.2},{"id":"g3","day":5,"cases":1.5},{"id":"g3","day":10,"cases":2.2},{"id":"g3","day":15,"cases":1.8},{"id":"g3","day":20,"cases":2.8},{"id":"g3","day":25,"cases":3.5},{"id":"g3","day":30,"cases":2.6},{"id":"g3","day":35,"cases":4},{"id":"g3","day":40,"cases":3.2},{"id":"g3","day":45,"cases":2.4},{"id":"g3","day":50,"cases":3},{"id":"g3","day":55,"cases":2},{"id":"g3","day":60,"cases":1.6},{"id":"g3","day":65,"cases":2.2},{"id":"g3","day":70,"cases":1.5},{"id":"g3","day":75,"cases":1.2},
      {"id":"g4","day":0,"cases":1.4},{"id":"g4","day":6,"cases":3},{"id":"g4","day":12,"cases":7},{"id":"g4","day":18,"cases":12},{"id":"g4","day":24,"cases":20},{"id":"g4","day":30,"cases":32},{"id":"g4","day":36,"cases":45},{"id":"g4","day":42,"cases":60},{"id":"g4","day":48,"cases":80},{"id":"g4","day":54,"cases":100},{"id":"g4","day":60,"cases":125},{"id":"g4","day":66,"cases":150},{"id":"g4","day":72,"cases":170},{"id":"g4","day":78,"cases":190},{"id":"g4","day":84,"cases":210},{"id":"g4","day":90,"cases":230},{"id":"g4","day":96,"cases":250},{"id":"g4","day":102,"cases":270},{"id":"g4","day":108,"cases":290},
      {"id":"g5","day":0,"cases":1.2},{"id":"g5","day":5,"cases":2},{"id":"g5","day":10,"cases":4},{"id":"g5","day":15,"cases":6.5},{"id":"g5","day":20,"cases":10},{"id":"g5","day":25,"cases":14},{"id":"g5","day":30,"cases":12},{"id":"g5","day":35,"cases":17},{"id":"g5","day":40,"cases":22},{"id":"g5","day":45,"cases":19},{"id":"g5","day":50,"cases":26},{"id":"g5","day":55,"cases":30},{"id":"g5","day":60,"cases":27},{"id":"g5","day":65,"cases":35},{"id":"g5","day":70,"cases":42},{"id":"g5","day":80,"cases":55},{"id":"g5","day":90,"cases":70},{"id":"g5","day":100,"cases":90},{"id":"g5","day":110,"cases":105},{"id":"g5","day":120,"cases":120},{"id":"g5","day":130,"cases":115},{"id":"g5","day":140,"cases":100},{"id":"g5","day":150,"cases":90},{"id":"g5","day":160,"cases":75},{"id":"g5","day":170,"cases":80},{"id":"g5","day":180,"cases":95},{"id":"g5","day":190,"cases":120},{"id":"g5","day":200,"cases":140},{"id":"g5","day":210,"cases":160},
      {"id":"g6","day":0,"cases":1.5},{"id":"g6","day":3,"cases":3},{"id":"g6","day":6,"cases":6},{"id":"g6","day":9,"cases":12},{"id":"g6","day":12,"cases":20},{"id":"g6","day":15,"cases":28},{"id":"g6","day":18,"cases":35},{"id":"g6","day":22,"cases":42},{"id":"g6","day":26,"cases":38},{"id":"g6","day":30,"cases":30},{"id":"g6","day":35,"cases":22},{"id":"g6","day":40,"cases":15},{"id":"g6","day":45,"cases":10},{"id":"g6","day":50,"cases":7},{"id":"g6","day":55,"cases":5},{"id":"g6","day":60,"cases":4},{"id":"g6","day":70,"cases":3},{"id":"g6","day":80,"cases":3.5},{"id":"g6","day":90,"cases":2.5},{"id":"g6","day":100,"cases":2},
      {"id":"g7","day":0,"cases":1.1},{"id":"g7","day":10,"cases":1.6},{"id":"g7","day":20,"cases":2.5},{"id":"g7","day":30,"cases":4},{"id":"g7","day":40,"cases":6},{"id":"g7","day":50,"cases":9},{"id":"g7","day":60,"cases":14},{"id":"g7","day":70,"cases":20},{"id":"g7","day":80,"cases":30},{"id":"g7","day":90,"cases":45},{"id":"g7","day":100,"cases":65},{"id":"g7","day":110,"cases":80},{"id":"g7","day":120,"cases":95},{"id":"g7","day":130,"cases":110},{"id":"g7","day":140,"cases":100},{"id":"g7","day":150,"cases":85},{"id":"g7","day":160,"cases":70},{"id":"g7","day":170,"cases":65},
      {"id":"g8","day":0,"cases":1.3},{"id":"g8","day":5,"cases":2.2},{"id":"g8","day":10,"cases":3.5},{"id":"g8","day":15,"cases":5},{"id":"g8","day":20,"cases":8},{"id":"g8","day":25,"cases":12},{"id":"g8","day":30,"cases":16},{"id":"g8","day":35,"cases":14},{"id":"g8","day":40,"cases":12},{"id":"g8","day":45,"cases":9},{"id":"g8","day":50,"cases":7},{"id":"g8","day":55,"cases":5.5},{"id":"g8","day":60,"cases":6},{"id":"g8","day":65,"cases":8},{"id":"g8","day":70,"cases":10},{"id":"g8","day":75,"cases":12},{"id":"g8","day":80,"cases":11},{"id":"g8","day":85,"cases":9},{"id":"g8","day":90,"cases":7.5},{"id":"g8","day":95,"cases":6},{"id":"g8","day":100,"cases":5},{"id":"g8","day":110,"cases":4},{"id":"g8","day":120,"cases":3.2},{"id":"g8","day":130,"cases":2.5},{"id":"g8","day":140,"cases":2},
      {"id":"g9","day":0,"cases":1.2},{"id":"g9","day":8,"cases":2.5},{"id":"g9","day":16,"cases":5},{"id":"g9","day":24,"cases":10},{"id":"g9","day":32,"cases":18},{"id":"g9","day":40,"cases":28},{"id":"g9","day":48,"cases":40},{"id":"g9","day":56,"cases":55},{"id":"g9","day":64,"cases":70},{"id":"g9","day":72,"cases":85},{"id":"g9","day":80,"cases":100},{"id":"g9","day":88,"cases":110},{"id":"g9","day":96,"cases":120},{"id":"g9","day":104,"cases":125},{"id":"g9","day":112,"cases":115},{"id":"g9","day":120,"cases":105},{"id":"g9","day":128,"cases":95},{"id":"g9","day":136,"cases":90},{"id":"g9","day":144,"cases":100},{"id":"g9","day":152,"cases":120},{"id":"g9","day":160,"cases":150},{"id":"g9","day":168,"cases":180},{"id":"g9","day":176,"cases":200},{"id":"g9","day":184,"cases":220},
      {"id":"g10","day":0,"cases":1.4},{"id":"g10","day":4,"cases":2.8},{"id":"g10","day":8,"cases":4.5},{"id":"g10","day":12,"cases":4},{"id":"g10","day":16,"cases":6},{"id":"g10","day":20,"cases":5},{"id":"g10","day":24,"cases":7.5},{"id":"g10","day":28,"cases":6},{"id":"g10","day":32,"cases":9},{"id":"g10","day":36,"cases":7},{"id":"g10","day":40,"cases":5.5},{"id":"g10","day":45,"cases":8},{"id":"g10","day":50,"cases":6},{"id":"g10","day":55,"cases":4.5},{"id":"g10","day":60,"cases":7},{"id":"g10","day":65,"cases":5},{"id":"g10","day":70,"cases":3.8},{"id":"g10","day":75,"cases":6},{"id":"g10","day":80,"cases":4.5},{"id":"g10","day":85,"cases":3},{"id":"g10","day":90,"cases":5},{"id":"g10","day":95,"cases":3.5},
      {"id":"g11","day":0,"cases":1.2},{"id":"g11","day":5,"cases":3},{"id":"g11","day":10,"cases":6},{"id":"g11","day":15,"cases":11},{"id":"g11","day":20,"cases":18},{"id":"g11","day":25,"cases":24},{"id":"g11","day":30,"cases":30},{"id":"g11","day":35,"cases":26},{"id":"g11","day":40,"cases":20},{"id":"g11","day":45,"cases":22},{"id":"g11","day":50,"cases":17},{"id":"g11","day":55,"cases":13},{"id":"g11","day":60,"cases":15},{"id":"g11","day":65,"cases":11},{"id":"g11","day":70,"cases":9},{"id":"g11","day":75,"cases":12},{"id":"g11","day":80,"cases":10},{"id":"g11","day":90,"cases":14},{"id":"g11","day":100,"cases":18},{"id":"g11","day":110,"cases":25},{"id":"g11","day":120,"cases":32},{"id":"g11","day":130,"cases":28},{"id":"g11","day":140,"cases":24},{"id":"g11","day":150,"cases":30},{"id":"g11","day":160,"cases":38},{"id":"g11","day":170,"cases":50},{"id":"g11","day":180,"cases":65},{"id":"g11","day":190,"cases":85},{"id":"g11","day":200,"cases":100},
      {"id":"g12","day":0,"cases":1.1},{"id":"g12","day":6,"cases":1.5},{"id":"g12","day":12,"cases":2.4},{"id":"g12","day":18,"cases":3.8},{"id":"g12","day":24,"cases":5.5},{"id":"g12","day":30,"cases":8},{"id":"g12","day":36,"cases":12},{"id":"g12","day":42,"cases":17},{"id":"g12","day":48,"cases":24},{"id":"g12","day":54,"cases":32},{"id":"g12","day":60,"cases":40},{"id":"g12","day":66,"cases":46},{"id":"g12","day":72,"cases":50},{"id":"g12","day":78,"cases":55},{"id":"g12","day":84,"cases":52},{"id":"g12","day":90,"cases":58},{"id":"g12","day":96,"cases":62},{"id":"g12","day":102,"cases":70},{"id":"g12","day":108,"cases":80},{"id":"g12","day":114,"cases":95},{"id":"g12","day":120,"cases":110},{"id":"g12","day":126,"cases":130},{"id":"g12","day":132,"cases":150},{"id":"g12","day":138,"cases":170},{"id":"g12","day":144,"cases":190},
      {"id":"g13","day":0,"cases":1.6},{"id":"g13","day":3,"cases":4},{"id":"g13","day":6,"cases":10},{"id":"g13","day":9,"cases":22},{"id":"g13","day":12,"cases":40},{"id":"g13","day":15,"cases":60},{"id":"g13","day":18,"cases":75},{"id":"g13","day":21,"cases":80},{"id":"g13","day":25,"cases":70},{"id":"g13","day":30,"cases":55},{"id":"g13","day":35,"cases":45},{"id":"g13","day":40,"cases":38},{"id":"g13","day":45,"cases":30},{"id":"g13","day":50,"cases":24},{"id":"g13","day":55,"cases":18},{"id":"g13","day":60,"cases":14},{"id":"g13","day":65,"cases":10},{"id":"g13","day":70,"cases":8},{"id":"g13","day":75,"cases":6.5},{"id":"g13","day":80,"cases":5},{"id":"g13","day":90,"cases":4},{"id":"g13","day":100,"cases":3.5},{"id":"g13","day":110,"cases":4.5},{"id":"g13","day":120,"cases":6},{"id":"g13","day":130,"cases":9},{"id":"g13","day":140,"cases":14},{"id":"g13","day":150,"cases":22},{"id":"g13","day":160,"cases":35},{"id":"g13","day":170,"cases":55},{"id":"g13","day":180,"cases":80},{"id":"g13","day":190,"cases":100},
      {"id":"g14","day":0,"cases":1.3},{"id":"g14","day":10,"cases":3},{"id":"g14","day":20,"cases":6},{"id":"g14","day":30,"cases":11},{"id":"g14","day":40,"cases":19},{"id":"g14","day":50,"cases":30},{"id":"g14","day":60,"cases":45},{"id":"g14","day":70,"cases":65},{"id":"g14","day":80,"cases":90},{"id":"g14","day":90,"cases":120},{"id":"g14","day":100,"cases":150},{"id":"g14","day":110,"cases":170},{"id":"g14","day":120,"cases":185},{"id":"g14","day":130,"cases":175},{"id":"g14","day":140,"cases":160},{"id":"g14","day":150,"cases":150},{"id":"g14","day":160,"cases":155},{"id":"g14","day":170,"cases":170},{"id":"g14","day":180,"cases":190},{"id":"g14","day":190,"cases":210},
      {"id":"g15","day":0,"cases":1.2},{"id":"g15","day":5,"cases":1.8},{"id":"g15","day":10,"cases":3},{"id":"g15","day":15,"cases":2.4},{"id":"g15","day":20,"cases":3.8},{"id":"g15","day":25,"cases":5},{"id":"g15","day":30,"cases":4.2},{"id":"g15","day":35,"cases":6.5},{"id":"g15","day":40,"cases":5},{"id":"g15","day":45,"cases":7.5},{"id":"g15","day":50,"cases":9},{"id":"g15","day":55,"cases":7},{"id":"g15","day":60,"cases":10},{"id":"g15","day":65,"cases":13},{"id":"g15","day":70,"cases":11},{"id":"g15","day":75,"cases":15},{"id":"g15","day":80,"cases":18},{"id":"g15","day":85,"cases":14},{"id":"g15","day":90,"cases":17},{"id":"g15","day":95,"cases":12},{"id":"g15","day":100,"cases":9},{"id":"g15","day":105,"cases":11},{"id":"g15","day":110,"cases":8},{"id":"g15","day":115,"cases":6},{"id":"g15","day":120,"cases":7.5},
      {"id":"g16","day":0,"cases":1.4},{"id":"g16","day":5,"cases":3.5},{"id":"g16","day":10,"cases":8},{"id":"g16","day":15,"cases":14},{"id":"g16","day":20,"cases":22},{"id":"g16","day":25,"cases":30},{"id":"g16","day":30,"cases":28},{"id":"g16","day":35,"cases":34},{"id":"g16","day":40,"cases":30},{"id":"g16","day":45,"cases":26},{"id":"g16","day":50,"cases":32},{"id":"g16","day":55,"cases":28},{"id":"g16","day":60,"cases":22},{"id":"g16","day":70,"cases":18},{"id":"g16","day":80,"cases":21},{"id":"g16","day":90,"cases":16},{"id":"g16","day":100,"cases":13},{"id":"g16","day":110,"cases":16},{"id":"g16","day":120,"cases":12},{"id":"g16","day":130,"cases":9},{"id":"g16","day":140,"cases":11},{"id":"g16","day":150,"cases":8},{"id":"g16","day":160,"cases":6.5},{"id":"g16","day":170,"cases":5},{"id":"g16","day":180,"cases":6},{"id":"g16","day":190,"cases":4.5},{"id":"g16","day":200,"cases":3.5},
      {"id":"g17","day":0,"cases":1.1},{"id":"g17","day":8,"cases":2},{"id":"g17","day":16,"cases":3.5},{"id":"g17","day":24,"cases":6},{"id":"g17","day":32,"cases":9},{"id":"g17","day":40,"cases":13},{"id":"g17","day":48,"cases":17},{"id":"g17","day":56,"cases":21},{"id":"g17","day":64,"cases":26},{"id":"g17","day":72,"cases":30},{"id":"g17","day":80,"cases":34},{"id":"g17","day":88,"cases":31},{"id":"g17","day":96,"cases":27},{"id":"g17","day":104,"cases":24},{"id":"g17","day":112,"cases":26},{"id":"g17","day":120,"cases":30},{"id":"g17","day":128,"cases":35},{"id":"g17","day":136,"cases":42},{"id":"g17","day":144,"cases":48},{"id":"g17","day":152,"cases":44},{"id":"g17","day":160,"cases":40},{"id":"g17","day":168,"cases":45},{"id":"g17","day":176,"cases":52},{"id":"g17","day":184,"cases":60},{"id":"g17","day":192,"cases":70},
      {"id":"g18","day":0,"cases":1.3},{"id":"g18","day":5,"cases":2.5},{"id":"g18","day":10,"cases":5},{"id":"g18","day":15,"cases":9},{"id":"g18","day":20,"cases":15},{"id":"g18","day":25,"cases":24},{"id":"g18","day":30,"cases":35},{"id":"g18","day":35,"cases":50},{"id":"g18","day":40,"cases":70},{"id":"g18","day":45,"cases":90},{"id":"g18","day":50,"cases":105},{"id":"g18","day":55,"cases":120},{"id":"g18","day":60,"cases":110},{"id":"g18","day":65,"cases":95},{"id":"g18","day":70,"cases":80},{"id":"g18","day":80,"cases":65},{"id":"g18","day":90,"cases":55},{"id":"g18","day":100,"cases":50},{"id":"g18","day":110,"cases":60},{"id":"g18","day":120,"cases":75},{"id":"g18","day":130,"cases":90},{"id":"g18","day":140,"cases":110},{"id":"g18","day":150,"cases":130},{"id":"g18","day":160,"cases":150},{"id":"g18","day":170,"cases":175},{"id":"g18","day":180,"cases":200},{"id":"g18","day":190,"cases":230},
      {"id":"g19","day":0,"cases":1.2},{"id":"g19","day":4,"cases":1.6},{"id":"g19","day":8,"cases":2.3},{"id":"g19","day":12,"cases":1.9},{"id":"g19","day":16,"cases":2.7},{"id":"g19","day":20,"cases":3.4},{"id":"g19","day":24,"cases":2.8},{"id":"g19","day":28,"cases":4},{"id":"g19","day":32,"cases":3.1},{"id":"g19","day":36,"cases":2.2},{"id":"g19","day":40,"cases":2.9},{"id":"g19","day":44,"cases":2.1},{"id":"g19","day":48,"cases":1.5},{"id":"g19","day":52,"cases":1.9},{"id":"g19","day":56,"cases":1.3},
      {"id":"g20","day":0,"cases":1.5},{"id":"g20","day":5,"cases":4},{"id":"g20","day":10,"cases":9},{"id":"g20","day":15,"cases":16},{"id":"g20","day":20,"cases":24},{"id":"g20","day":25,"cases":30},{"id":"g20","day":30,"cases":26},{"id":"g20","day":35,"cases":20},{"id":"g20","day":40,"cases":15},{"id":"g20","day":45,"cases":11},{"id":"g20","day":50,"cases":8},{"id":"g20","day":55,"cases":6},{"id":"g20","day":60,"cases":4.5},{"id":"g20","day":65,"cases":3.5},{"id":"g20","day":70,"cases":2.8},{"id":"g20","day":80,"cases":2.2},{"id":"g20","day":90,"cases":1.8},{"id":"g20","day":100,"cases":2.5},{"id":"g20","day":110,"cases":3.5},{"id":"g20","day":120,"cases":5},{"id":"g20","day":130,"cases":7},{"id":"g20","day":140,"cases":10},{"id":"g20","day":150,"cases":14},{"id":"g20","day":160,"cases":19},{"id":"g20","day":170,"cases":25},{"id":"g20","day":180,"cases":32},{"id":"g20","day":190,"cases":42},{"id":"g20","day":200,"cases":55},
      {"id":"g21","day":0,"cases":1.2},{"id":"g21","day":6,"cases":2.2},{"id":"g21","day":12,"cases":4},{"id":"g21","day":18,"cases":7},{"id":"g21","day":24,"cases":11},{"id":"g21","day":30,"cases":16},{"id":"g21","day":36,"cases":22},{"id":"g21","day":42,"cases":28},{"id":"g21","day":48,"cases":34},{"id":"g21","day":54,"cases":40},{"id":"g21","day":60,"cases":38},{"id":"g21","day":66,"cases":34},{"id":"g21","day":72,"cases":30},{"id":"g21","day":78,"cases":27},{"id":"g21","day":84,"cases":24},{"id":"g21","day":90,"cases":20},{"id":"g21","day":96,"cases":18},{"id":"g21","day":102,"cases":15},{"id":"g21","day":108,"cases":12},{"id":"g21","day":114,"cases":10},{"id":"g21","day":120,"cases":8},{"id":"g21","day":126,"cases":6.5},{"id":"g21","day":132,"cases":5},{"id":"g21","day":138,"cases":4},
      {"id":"g22","day":0,"cases":1.1},{"id":"g22","day":5,"cases":1.4},{"id":"g22","day":10,"cases":2},{"id":"g22","day":15,"cases":2.8},{"id":"g22","day":20,"cases":3.5},{"id":"g22","day":25,"cases":4.8},{"id":"g22","day":30,"cases":6.5},{"id":"g22","day":35,"cases":5.5},{"id":"g22","day":40,"cases":7.5},{"id":"g22","day":45,"cases":9.5},{"id":"g22","day":50,"cases":8},{"id":"g22","day":55,"cases":11},{"id":"g22","day":60,"cases":14},{"id":"g22","day":65,"cases":12},{"id":"g22","day":70,"cases":16},{"id":"g22","day":75,"cases":20},{"id":"g22","day":80,"cases":17},{"id":"g22","day":85,"cases":22},{"id":"g22","day":90,"cases":27},{"id":"g22","day":95,"cases":24},{"id":"g22","day":100,"cases":30},{"id":"g22","day":105,"cases":36},{"id":"g22","day":110,"cases":33},{"id":"g22","day":115,"cases":40},{"id":"g22","day":120,"cases":46},
      {"id":"g23","day":0,"cases":1.3},{"id":"g23","day":3,"cases":2.5},{"id":"g23","day":6,"cases":5},{"id":"g23","day":9,"cases":9},{"id":"g23","day":12,"cases":15},{"id":"g23","day":15,"cases":22},{"id":"g23","day":18,"cases":30},{"id":"g23","day":21,"cases":38},{"id":"g23","day":24,"cases":45},{"id":"g23","day":28,"cases":52},{"id":"g23","day":32,"cases":58},{"id":"g23","day":36,"cases":55},{"id":"g23","day":40,"cases":50},{"id":"g23","day":45,"cases":44},{"id":"g23","day":50,"cases":40},{"id":"g23","day":55,"cases":36},{"id":"g23","day":60,"cases":32},{"id":"g23","day":65,"cases":28},{"id":"g23","day":70,"cases":30},{"id":"g23","day":75,"cases":34},{"id":"g23","day":80,"cases":38},{"id":"g23","day":90,"cases":45},{"id":"g23","day":100,"cases":55},{"id":"g23","day":110,"cases":70},{"id":"g23","day":120,"cases":90},{"id":"g23","day":130,"cases":115},{"id":"g23","day":140,"cases":140},{"id":"g23","day":150,"cases":165},{"id":"g23","day":160,"cases":190},{"id":"g23","day":170,"cases":220},{"id":"g23","day":180,"cases":250},
      {"id":"g24","day":0,"cases":1.2},{"id":"g24","day":10,"cases":1.8},{"id":"g24","day":20,"cases":3},{"id":"g24","day":30,"cases":5},{"id":"g24","day":40,"cases":4},{"id":"g24","day":50,"cases":6},{"id":"g24","day":60,"cases":9},{"id":"g24","day":70,"cases":7},{"id":"g24","day":80,"cases":10},{"id":"g24","day":90,"cases":14},{"id":"g24","day":100,"cases":12},{"id":"g24","day":110,"cases":17},{"id":"g24","day":120,"cases":22},{"id":"g24","day":130,"cases":19},{"id":"g24","day":140,"cases":26},{"id":"g24","day":150,"cases":33},{"id":"g24","day":160,"cases":29},{"id":"g24","day":170,"cases":38},{"id":"g24","day":180,"cases":46},{"id":"g24","day":190,"cases":40},{"id":"g24","day":200,"cases":50},{"id":"g24","day":210,"cases":58},
      {"id":"g25","day":0,"cases":1.4},{"id":"g25","day":5,"cases":3},{"id":"g25","day":10,"cases":5.5},{"id":"g25","day":15,"cases":8},{"id":"g25","day":20,"cases":12},{"id":"g25","day":25,"cases":10},{"id":"g25","day":30,"cases":14},{"id":"g25","day":35,"cases":11},{"id":"g25","day":40,"cases":8},{"id":"g25","day":45,"cases":10},{"id":"g25","day":50,"cases":7},{"id":"g25","day":55,"cases":5},{"id":"g25","day":60,"cases":6.5},{"id":"g25","day":65,"cases":4.8},{"id":"g25","day":70,"cases":3.5},{"id":"g25","day":75,"cases":4.5},{"id":"g25","day":80,"cases":3.2},{"id":"g25","day":85,"cases":2.4},{"id":"g25","day":90,"cases":3},{"id":"g25","day":95,"cases":2.2},{"id":"g25","day":100,"cases":1.7},
      {"id":"g26","day":0,"cases":1.2},{"id":"g26","day":8,"cases":2.6},{"id":"g26","day":16,"cases":5.5},{"id":"g26","day":24,"cases":11},{"id":"g26","day":32,"cases":20},{"id":"g26","day":40,"cases":33},{"id":"g26","day":48,"cases":50},{"id":"g26","day":56,"cases":70},{"id":"g26","day":64,"cases":90},{"id":"g26","day":72,"cases":110},{"id":"g26","day":80,"cases":125},{"id":"g26","day":88,"cases":135},{"id":"g26","day":96,"cases":140},{"id":"g26","day":104,"cases":130},{"id":"g26","day":112,"cases":115},{"id":"g26","day":120,"cases":100},{"id":"g26","day":128,"cases":85},{"id":"g26","day":136,"cases":75},{"id":"g26","day":144,"cases":70},{"id":"g26","day":152,"cases":75},{"id":"g26","day":160,"cases":85},{"id":"g26","day":168,"cases":100},{"id":"g26","day":176,"cases":120},{"id":"g26","day":184,"cases":140},{"id":"g26","day":192,"cases":160},
      {"id":"g27","day":0,"cases":1.3},{"id":"g27","day":5,"cases":2},{"id":"g27","day":10,"cases":3.2},{"id":"g27","day":15,"cases":5},{"id":"g27","day":20,"cases":4},{"id":"g27","day":25,"cases":6},{"id":"g27","day":30,"cases":8.5},{"id":"g27","day":35,"cases":7},{"id":"g27","day":40,"cases":10},{"id":"g27","day":45,"cases":13},{"id":"g27","day":50,"cases":11},{"id":"g27","day":55,"cases":15},{"id":"g27","day":60,"cases":19},{"id":"g27","day":65,"cases":16},{"id":"g27","day":70,"cases":21},{"id":"g27","day":75,"cases":26},{"id":"g27","day":80,"cases":23},{"id":"g27","day":85,"cases":18},{"id":"g27","day":90,"cases":15},{"id":"g27","day":95,"cases":19},{"id":"g27","day":100,"cases":16},{"id":"g27","day":110,"cases":12},{"id":"g27","day":120,"cases":9},{"id":"g27","day":130,"cases":7},{"id":"g27","day":140,"cases":9},{"id":"g27","day":150,"cases":12},{"id":"g27","day":160,"cases":10},{"id":"g27","day":170,"cases":8},{"id":"g27","day":180,"cases":6},{"id":"g27","day":190,"cases":4.5},{"id":"g27","day":200,"cases":3.3},
      {"id":"g28","day":0,"cases":1.5},{"id":"g28","day":4,"cases":3.5},{"id":"g28","day":8,"cases":7},{"id":"g28","day":12,"cases":12},{"id":"g28","day":16,"cases":18},{"id":"g28","day":20,"cases":26},{"id":"g28","day":24,"cases":34},{"id":"g28","day":28,"cases":40},{"id":"g28","day":32,"cases":36},{"id":"g28","day":36,"cases":30},{"id":"g28","day":40,"cases":24},{"id":"g28","day":44,"cases":19},{"id":"g28","day":48,"cases":15},{"id":"g28","day":52,"cases":12},{"id":"g28","day":56,"cases":9},{"id":"g28","day":60,"cases":7},{"id":"g28","day":64,"cases":5.5},{"id":"g28","day":68,"cases":4.2},{"id":"g28","day":72,"cases":3.4},{"id":"g28","day":76,"cases":2.8},{"id":"g28","day":80,"cases":2.3},{"id":"g28","day":85,"cases":1.9},{"id":"g28","day":90,"cases":1.6},{"id":"g28","day":100,"cases":1.3},{"id":"g28","day":110,"cases":1.6},{"id":"g28","day":120,"cases":2.2},{"id":"g28","day":130,"cases":3},{"id":"g28","day":140,"cases":4},{"id":"g28","day":150,"cases":5.5},{"id":"g28","day":160,"cases":8},{"id":"g28","day":170,"cases":11},{"id":"g28","day":180,"cases":16},{"id":"g28","day":190,"cases":22},{"id":"g28","day":200,"cases":30},
      {"id":"g29","day":0,"cases":1.1},{"id":"g29","day":10,"cases":2},{"id":"g29","day":20,"cases":3.6},{"id":"g29","day":30,"cases":6},{"id":"g29","day":40,"cases":9.5},{"id":"g29","day":50,"cases":14},{"id":"g29","day":60,"cases":20},{"id":"g29","day":70,"cases":28},{"id":"g29","day":80,"cases":38},{"id":"g29","day":90,"cases":50},{"id":"g29","day":100,"cases":62},{"id":"g29","day":110,"cases":75},{"id":"g29","day":120,"cases":85},{"id":"g29","day":130,"cases":90},{"id":"g29","day":140,"cases":95},{"id":"g29","day":150,"cases":105},{"id":"g29","day":160,"cases":115},{"id":"g29","day":170,"cases":130},{"id":"g29","day":180,"cases":150},
      {"id":"g30","day":0,"cases":1.2},{"id":"g30","day":5,"cases":2.4},{"id":"g30","day":10,"cases":4.2},{"id":"g30","day":15,"cases":3.5},{"id":"g30","day":20,"cases":5.8},{"id":"g30","day":25,"cases":8},{"id":"g30","day":30,"cases":6.5},{"id":"g30","day":35,"cases":9},{"id":"g30","day":40,"cases":12},{"id":"g30","day":45,"cases":10},{"id":"g30","day":50,"cases":7.5},{"id":"g30","day":55,"cases":9.5},{"id":"g30","day":60,"cases":12.5},{"id":"g30","day":65,"cases":10},{"id":"g30","day":70,"cases":13},{"id":"g30","day":75,"cases":17},{"id":"g30","day":80,"cases":14},{"id":"g30","day":85,"cases":11},{"id":"g30","day":90,"cases":8.5},{"id":"g30","day":95,"cases":10.5},{"id":"g30","day":100,"cases":8},
      {"id":"g31","day":0,"cases":1.3},{"id":"g31","day":6,"cases":2.8},{"id":"g31","day":12,"cases":5.5},{"id":"g31","day":18,"cases":10},{"id":"g31","day":24,"cases":17},{"id":"g31","day":30,"cases":26},{"id":"g31","day":36,"cases":35},{"id":"g31","day":42,"cases":42},{"id":"g31","day":48,"cases":48},{"id":"g31","day":54,"cases":44},{"id":"g31","day":60,"cases":38},{"id":"g31","day":66,"cases":35},{"id":"g31","day":72,"cases":40},{"id":"g31","day":78,"cases":46},{"id":"g31","day":84,"cases":52},{"id":"g31","day":90,"cases":60},{"id":"g31","day":96,"cases":70},{"id":"g31","day":102,"cases":82},{"id":"g31","day":108,"cases":95},{"id":"g31","day":114,"cases":110},{"id":"g31","day":120,"cases":125},{"id":"g31","day":126,"cases":140},{"id":"g31","day":132,"cases":155},{"id":"g31","day":138,"cases":170},
      {"id":"g32","day":0,"cases":1.2},{"id":"g32","day":7,"cases":1.7},{"id":"g32","day":14,"cases":2.5},{"id":"g32","day":21,"cases":2},{"id":"g32","day":28,"cases":3},{"id":"g32","day":35,"cases":4.2},{"id":"g32","day":42,"cases":3.5},{"id":"g32","day":49,"cases":5},{"id":"g32","day":56,"cases":6.5},{"id":"g32","day":63,"cases":5.2},{"id":"g32","day":70,"cases":7},{"id":"g32","day":77,"cases":9},{"id":"g32","day":84,"cases":7.5},{"id":"g32","day":91,"cases":10},{"id":"g32","day":98,"cases":12.5},{"id":"g32","day":105,"cases":10.5},{"id":"g32","day":112,"cases":13.5},{"id":"g32","day":119,"cases":16},{"id":"g32","day":126,"cases":13},{"id":"g32","day":133,"cases":17},{"id":"g32","day":140,"cases":21},{"id":"g32","day":147,"cases":18},{"id":"g32","day":154,"cases":23},{"id":"g32","day":161,"cases":28},{"id":"g32","day":168,"cases":25},{"id":"g32","day":175,"cases":31},{"id":"g32","day":182,"cases":37},{"id":"g32","day":189,"cases":33},{"id":"g32","day":196,"cases":40},{"id":"g32","day":203,"cases":46},{"id":"g32","day":210,"cases":50},
      {"id":"g33","day":0,"cases":1.4},{"id":"g33","day":5,"cases":3.2},{"id":"g33","day":10,"cases":6.5},{"id":"g33","day":15,"cases":11},{"id":"g33","day":20,"cases":17},{"id":"g33","day":25,"cases":22},{"id":"g33","day":30,"cases":20},{"id":"g33","day":35,"cases":16},{"id":"g33","day":40,"cases":13},{"id":"g33","day":45,"cases":15},{"id":"g33","day":50,"cases":12},{"id":"g33","day":55,"cases":9},{"id":"g33","day":60,"cases":11},{"id":"g33","day":65,"cases":8},{"id":"g33","day":70,"cases":6},{"id":"g33","day":75,"cases":7.5},{"id":"g33","day":80,"cases":5.5},{"id":"g33","day":85,"cases":4},{"id":"g33","day":90,"cases":5},{"id":"g33","day":95,"cases":3.6},{"id":"g33","day":100,"cases":2.7},{"id":"g33","day":110,"cases":3.5},{"id":"g33","day":120,"cases":2.5},{"id":"g33","day":130,"cases":1.8},
      {"id":"g34","day":0,"cases":1.2},{"id":"g34","day":10,"cases":2.2},{"id":"g34","day":20,"cases":4},{"id":"g34","day":30,"cases":7.5},{"id":"g34","day":40,"cases":13},{"id":"g34","day":50,"cases":22},{"id":"g34","day":60,"cases":35},{"id":"g34","day":70,"cases":50},{"id":"g34","day":80,"cases":62},{"id":"g34","day":90,"cases":70},{"id":"g34","day":100,"cases":66},{"id":"g34","day":110,"cases":58},{"id":"g34","day":120,"cases":50},{"id":"g34","day":130,"cases":45},{"id":"g34","day":140,"cases":48},{"id":"g34","day":150,"cases":55},{"id":"g34","day":160,"cases":65},{"id":"g34","day":170,"cases":80},{"id":"g34","day":180,"cases":100},{"id":"g34","day":190,"cases":125},{"id":"g34","day":200,"cases":150},
      {"id":"g35","day":0,"cases":1.3},{"id":"g35","day":4,"cases":2},{"id":"g35","day":8,"cases":3},{"id":"g35","day":12,"cases":4.5},{"id":"g35","day":16,"cases":3.6},{"id":"g35","day":20,"cases":5},{"id":"g35","day":24,"cases":7},{"id":"g35","day":28,"cases":5.8},{"id":"g35","day":32,"cases":8},{"id":"g35","day":36,"cases":6.5},{"id":"g35","day":40,"cases":9},{"id":"g35","day":44,"cases":7},{"id":"g35","day":48,"cases":5.5},{"id":"g35","day":52,"cases":7.5},{"id":"g35","day":56,"cases":10},{"id":"g35","day":60,"cases":8},{"id":"g35","day":64,"cases":11},{"id":"g35","day":68,"cases":14},{"id":"g35","day":72,"cases":11.5},
      {"id":"g36","day":0,"cases":1.6},{"id":"g36","day":3,"cases":3.5},{"id":"g36","day":6,"cases":7},{"id":"g36","day":9,"cases":13},{"id":"g36","day":12,"cases":22},{"id":"g36","day":15,"cases":35},{"id":"g36","day":18,"cases":50},{"id":"g36","day":21,"cases":65},{"id":"g36","day":24,"cases":80},{"id":"g36","day":27,"cases":90},{"id":"g36","day":30,"cases":95},{"id":"g36","day":34,"cases":85},{"id":"g36","day":38,"cases":70},{"id":"g36","day":42,"cases":58},{"id":"g36","day":46,"cases":48},{"id":"g36","day":50,"cases":40},{"id":"g36","day":55,"cases":34},{"id":"g36","day":60,"cases":30},{"id":"g36","day":65,"cases":34},{"id":"g36","day":70,"cases":40},{"id":"g36","day":75,"cases":48},{"id":"g36","day":80,"cases":58},{"id":"g36","day":90,"cases":80},{"id":"g36","day":100,"cases":105},{"id":"g36","day":110,"cases":130},{"id":"g36","day":120,"cases":160},{"id":"g36","day":130,"cases":190},{"id":"g36","day":140,"cases":220},{"id":"g36","day":150,"cases":250},{"id":"g36","day":160,"cases":280},
      {"id":"g37","day":0,"cases":1.2},{"id":"g37","day":6,"cases":1.9},{"id":"g37","day":12,"cases":2.8},{"id":"g37","day":18,"cases":4.4},{"id":"g37","day":24,"cases":6.5},{"id":"g37","day":30,"cases":9.5},{"id":"g37","day":36,"cases":13},{"id":"g37","day":42,"cases":18},{"id":"g37","day":48,"cases":23},{"id":"g37","day":54,"cases":20},{"id":"g37","day":60,"cases":16},{"id":"g37","day":66,"cases":19},{"id":"g37","day":72,"cases":23},{"id":"g37","day":78,"cases":28},{"id":"g37","day":84,"cases":24},{"id":"g37","day":90,"cases":20},{"id":"g37","day":96,"cases":17},{"id":"g37","day":102,"cases":14},{"id":"g37","day":108,"cases":17},{"id":"g37","day":114,"cases":21},{"id":"g37","day":120,"cases":18},{"id":"g37","day":126,"cases":15},{"id":"g37","day":132,"cases":12},{"id":"g37","day":138,"cases":10},{"id":"g37","day":144,"cases":12},{"id":"g37","day":150,"cases":15},{"id":"g37","day":156,"cases":19},{"id":"g37","day":162,"cases":24},{"id":"g37","day":168,"cases":21},{"id":"g37","day":174,"cases":18},{"id":"g37","day":180,"cases":15},{"id":"g37","day":186,"cases":12},{"id":"g37","day":192,"cases":10},{"id":"g37","day":198,"cases":8},{"id":"g37","day":204,"cases":6},{"id":"g37","day":210,"cases":5},
      {"id":"g38","day":0,"cases":1.3},{"id":"g38","day":5,"cases":2.6},{"id":"g38","day":10,"cases":4.8},{"id":"g38","day":15,"cases":7.5},{"id":"g38","day":20,"cases":6},{"id":"g38","day":25,"cases":8.5},{"id":"g38","day":30,"cases":11},{"id":"g38","day":35,"cases":9},{"id":"g38","day":40,"cases":12},{"id":"g38","day":45,"cases":15},{"id":"g38","day":50,"cases":19},{"id":"g38","day":55,"cases":16},{"id":"g38","day":60,"cases":20},{"id":"g38","day":65,"cases":25},{"id":"g38","day":70,"cases":21},{"id":"g38","day":75,"cases":18},{"id":"g38","day":80,"cases":22},{"id":"g38","day":85,"cases":27},{"id":"g38","day":90,"cases":24},{"id":"g38","day":95,"cases":29},{"id":"g38","day":100,"cases":35},{"id":"g38","day":110,"cases":40},{"id":"g38","day":120,"cases":36},{"id":"g38","day":130,"cases":32},{"id":"g38","day":140,"cases":27},{"id":"g38","day":150,"cases":23},{"id":"g38","day":160,"cases":19},
      {"id":"g39","day":0,"cases":1.1},{"id":"g39","day":5,"cases":1.3},{"id":"g39","day":10,"cases":1.8},{"id":"g39","day":15,"cases":2.5},{"id":"g39","day":20,"cases":3.5},{"id":"g39","day":25,"cases":3},{"id":"g39","day":30,"cases":4.2},{"id":"g39","day":35,"cases":5.5},{"id":"g39","day":40,"cases":4.5},{"id":"g39","day":45,"cases":6},{"id":"g39","day":50,"cases":7.5},{"id":"g39","day":55,"cases":6.2},{"id":"g39","day":60,"cases":8},{"id":"g39","day":65,"cases":6.5},{"id":"g39","day":70,"cases":5},{"id":"g39","day":75,"cases":6.5},{"id":"g39","day":80,"cases":4.8},{"id":"g39","day":85,"cases":3.8},{"id":"g39","day":90,"cases":4.6},{"id":"g39","day":95,"cases":3.4},{"id":"g39","day":100,"cases":2.6},{"id":"g39","day":105,"cases":3.2},{"id":"g39","day":110,"cases":2.4},
      {"id":"g40","day":0,"cases":1.4},{"id":"g40","day":5,"cases":3},{"id":"g40","day":10,"cases":6},{"id":"g40","day":15,"cases":10},{"id":"g40","day":20,"cases":15},{"id":"g40","day":25,"cases":21},{"id":"g40","day":30,"cases":27},{"id":"g40","day":35,"cases":33},{"id":"g40","day":40,"cases":38},{"id":"g40","day":45,"cases":42},{"id":"g40","day":50,"cases":40},{"id":"g40","day":55,"cases":36},{"id":"g40","day":60,"cases":30},{"id":"g40","day":65,"cases":25},{"id":"g40","day":70,"cases":21},{"id":"g40","day":75,"cases":18},{"id":"g40","day":80,"cases":16},{"id":"g40","day":90,"cases":19},{"id":"g40","day":100,"cases":24},{"id":"g40","day":110,"cases":30},{"id":"g40","day":120,"cases":38},{"id":"g40","day":130,"cases":48},{"id":"g40","day":140,"cases":58},{"id":"g40","day":150,"cases":70},{"id":"g40","day":160,"cases":80},{"id":"g40","day":170,"cases":92},{"id":"g40","day":180,"cases":105},{"id":"g40","day":190,"cases":118},{"id":"g40","day":200,"cases":130},
      {"id":"g41","day":0,"cases":1.2},{"id":"g41","day":8,"cases":2},{"id":"g41","day":16,"cases":3.4},{"id":"g41","day":24,"cases":5.5},{"id":"g41","day":32,"cases":8.5},{"id":"g41","day":40,"cases":12},{"id":"g41","day":48,"cases":16},{"id":"g41","day":56,"cases":14},{"id":"g41","day":64,"cases":11},{"id":"g41","day":72,"cases":9},{"id":"g41","day":80,"cases":7.5},{"id":"g41","day":88,"cases":8.5},{"id":"g41","day":96,"cases":10},{"id":"g41","day":104,"cases":12},{"id":"g41","day":112,"cases":15},{"id":"g41","day":120,"cases":19},{"id":"g41","day":128,"cases":24},{"id":"g41","day":136,"cases":30},{"id":"g41","day":144,"cases":36},{"id":"g41","day":152,"cases":43},{"id":"g41","day":160,"cases":50},{"id":"g41","day":168,"cases":60},{"id":"g41","day":176,"cases":72},{"id":"g41","day":184,"cases":85},{"id":"g41","day":192,"cases":100},{"id":"g41","day":200,"cases":120},{"id":"g41","day":208,"cases":140},
      {"id":"g42","day":0,"cases":1.3},{"id":"g42","day":5,"cases":1.9},{"id":"g42","day":10,"cases":2.7},{"id":"g42","day":15,"cases":2.2},{"id":"g42","day":20,"cases":3.1},{"id":"g42","day":25,"cases":2.5},{"id":"g42","day":30,"cases":3.6},{"id":"g42","day":35,"cases":2.8},{"id":"g42","day":40,"cases":2},{"id":"g42","day":45,"cases":2.6},{"id":"g42","day":50,"cases":1.9},{"id":"g42","day":55,"cases":2.4},{"id":"g42","day":60,"cases":1.7},{"id":"g42","day":65,"cases":2.2},{"id":"g42","day":70,"cases":1.6},{"id":"g42","day":75,"cases":2},{"id":"g42","day":80,"cases":1.4},
      {"id":"g43","day":0,"cases":1.5},{"id":"g43","day":4,"cases":3},{"id":"g43","day":8,"cases":6},{"id":"g43","day":12,"cases":11},{"id":"g43","day":16,"cases":17},{"id":"g43","day":20,"cases":23},{"id":"g43","day":24,"cases":28},{"id":"g43","day":28,"cases":25},{"id":"g43","day":32,"cases":21},{"id":"g43","day":36,"cases":24},{"id":"g43","day":40,"cases":19},{"id":"g43","day":44,"cases":15},{"id":"g43","day":48,"cases":17},{"id":"g43","day":52,"cases":13},{"id":"g43","day":56,"cases":10},{"id":"g43","day":60,"cases":12},{"id":"g43","day":64,"cases":9},{"id":"g43","day":68,"cases":7},{"id":"g43","day":72,"cases":8.5},{"id":"g43","day":76,"cases":6.5},{"id":"g43","day":80,"cases":5},{"id":"g43","day":85,"cases":6},{"id":"g43","day":90,"cases":4.5},{"id":"g43","day":95,"cases":3.5},{"id":"g43","day":100,"cases":4.2},{"id":"g43","day":105,"cases":3.2},{"id":"g43","day":110,"cases":2.5},
      {"id":"g44","day":0,"cases":1.2},{"id":"g44","day":10,"cases":2.4},{"id":"g44","day":20,"cases":4.5},{"id":"g44","day":30,"cases":8},{"id":"g44","day":40,"cases":13},{"id":"g44","day":50,"cases":19},{"id":"g44","day":60,"cases":27},{"id":"g44","day":70,"cases":36},{"id":"g44","day":80,"cases":44},{"id":"g44","day":90,"cases":50},{"id":"g44","day":100,"cases":46},{"id":"g44","day":110,"cases":40},{"id":"g44","day":120,"cases":34},{"id":"g44","day":130,"cases":29},{"id":"g44","day":140,"cases":26},{"id":"g44","day":150,"cases":24},{"id":"g44","day":160,"cases":27},{"id":"g44","day":170,"cases":31},{"id":"g44","day":180,"cases":36},{"id":"g44","day":190,"cases":42},{"id":"g44","day":200,"cases":48},{"id":"g44","day":210,"cases":45},
      {"id":"g45","day":0,"cases":1.3},{"id":"g45","day":5,"cases":2.2},{"id":"g45","day":10,"cases":3.6},{"id":"g45","day":15,"cases":5.5},{"id":"g45","day":20,"cases":8},{"id":"g45","day":25,"cases":11},{"id":"g45","day":30,"cases":15},{"id":"g45","day":35,"cases":19},{"id":"g45","day":40,"cases":17},{"id":"g45","day":45,"cases":14},{"id":"g45","day":50,"cases":16},{"id":"g45","day":55,"cases":13},{"id":"g45","day":60,"cases":10},{"id":"g45","day":65,"cases":12},{"id":"g45","day":70,"cases":9.5},{"id":"g45","day":75,"cases":7.5},{"id":"g45","day":80,"cases":9},{"id":"g45","day":85,"cases":7},{"id":"g45","day":90,"cases":5.5},{"id":"g45","day":95,"cases":6.5},{"id":"g45","day":100,"cases":5},{"id":"g45","day":110,"cases":4},{"id":"g45","day":120,"cases":5},{"id":"g45","day":130,"cases":6.5},{"id":"g45","day":140,"cases":5},{"id":"g45","day":150,"cases":4},{"id":"g45","day":160,"cases":3},{"id":"g45","day":170,"cases":3.8},{"id":"g45","day":180,"cases":2.8},{"id":"g45","day":190,"cases":2.2},{"id":"g45","day":200,"cases":1.8},
      {"id":"g46","day":0,"cases":1.1},{"id":"g46","day":6,"cases":1.6},{"id":"g46","day":12,"cases":2.2},{"id":"g46","day":18,"cases":3},{"id":"g46","day":24,"cases":4},{"id":"g46","day":30,"cases":5.2},{"id":"g46","day":36,"cases":4.4},{"id":"g46","day":42,"cases":5.8},{"id":"g46","day":48,"cases":7.5},{"id":"g46","day":54,"cases":6.2},{"id":"g46","day":60,"cases":8},{"id":"g46","day":66,"cases":10},{"id":"g46","day":72,"cases":8.5},{"id":"g46","day":78,"cases":11},{"id":"g46","day":84,"cases":14},{"id":"g46","day":90,"cases":12},{"id":"g46","day":96,"cases":15},{"id":"g46","day":102,"cases":18},{"id":"g46","day":108,"cases":15.5},{"id":"g46","day":114,"cases":19},{"id":"g46","day":120,"cases":23},{"id":"g46","day":126,"cases":20},{"id":"g46","day":132,"cases":24},{"id":"g46","day":138,"cases":28},
      {"id":"g47","day":0,"cases":1.4},{"id":"g47","day":5,"cases":3.4},{"id":"g47","day":10,"cases":7},{"id":"g47","day":15,"cases":12},{"id":"g47","day":20,"cases":19},{"id":"g47","day":25,"cases":27},{"id":"g47","day":30,"cases":36},{"id":"g47","day":35,"cases":45},{"id":"g47","day":40,"cases":52},{"id":"g47","day":45,"cases":58},{"id":"g47","day":50,"cases":62},{"id":"g47","day":55,"cases":58},{"id":"g47","day":60,"cases":52},{"id":"g47","day":65,"cases":47},{"id":"g47","day":70,"cases":43},{"id":"g47","day":75,"cases":40},{"id":"g47","day":80,"cases":44},{"id":"g47","day":85,"cases":49},{"id":"g47","day":90,"cases":55},{"id":"g47","day":95,"cases":62},{"id":"g47","day":100,"cases":70},{"id":"g47","day":110,"cases":85},{"id":"g47","day":120,"cases":100},{"id":"g47","day":130,"cases":112},{"id":"g47","day":140,"cases":120},{"id":"g47","day":150,"cases":115},{"id":"g47","day":160,"cases":108},{"id":"g47","day":170,"cases":112},{"id":"g47","day":180,"cases":125},{"id":"g47","day":190,"cases":140},{"id":"g47","day":200,"cases":160},{"id":"g47","day":210,"cases":180},
      {"id":"g48","day":0,"cases":1.2},{"id":"g48","day":10,"cases":1.5},{"id":"g48","day":20,"cases":2},{"id":"g48","day":30,"cases":2.7},{"id":"g48","day":40,"cases":3.5},{"id":"g48","day":50,"cases":4.5},{"id":"g48","day":60,"cases":5.8},{"id":"g48","day":70,"cases":7.4},{"id":"g48","day":80,"cases":9.5},{"id":"g48","day":90,"cases":12},{"id":"g48","day":100,"cases":15},{"id":"g48","day":110,"cases":19},{"id":"g48","day":120,"cases":24},{"id":"g48","day":130,"cases":21},{"id":"g48","day":140,"cases":18},{"id":"g48","day":150,"cases":15},{"id":"g48","day":160,"cases":13},{"id":"g48","day":170,"cases":11},{"id":"g48","day":180,"cases":9},{"id":"g48","day":190,"cases":7.5},{"id":"g48","day":200,"cases":6},{"id":"g48","day":210,"cases":5},
      {"id":"g49","day":0,"cases":1.2},{"id":"g49","day":4,"cases":1.9},{"id":"g49","day":8,"cases":3.1},{"id":"g49","day":12,"cases":2.4},{"id":"g49","day":16,"cases":4},{"id":"g49","day":20,"cases":3.2},{"id":"g49","day":24,"cases":5.2},{"id":"g49","day":28,"cases":4.1},{"id":"g49","day":32,"cases":6.5},{"id":"g49","day":36,"cases":5},{"id":"g49","day":40,"cases":7.8},{"id":"g49","day":44,"cases":6},{"id":"g49","day":48,"cases":4.5},{"id":"g49","day":52,"cases":6.8},{"id":"g49","day":56,"cases":5.1},{"id":"g49","day":60,"cases":3.8},{"id":"g49","day":64,"cases":5.5},{"id":"g49","day":68,"cases":4.2},{"id":"g49","day":72,"cases":3},{"id":"g49","day":76,"cases":4.4},{"id":"g49","day":80,"cases":3.3},{"id":"g49","day":84,"cases":2.4},{"id":"g49","day":88,"cases":3.4},{"id":"g49","day":92,"cases":2.5},{"id":"g49","day":96,"cases":1.9},
      {"id":"g50","day":0,"cases":1.3},{"id":"g50","day":5,"cases":2.6},{"id":"g50","day":10,"cases":5},{"id":"g50","day":15,"cases":4},{"id":"g50","day":20,"cases":7},{"id":"g50","day":25,"cases":10},{"id":"g50","day":30,"cases":8},{"id":"g50","day":35,"cases":12},{"id":"g50","day":40,"cases":9.5},{"id":"g50","day":45,"cases":14},{"id":"g50","day":50,"cases":11},{"id":"g50","day":55,"cases":8.5},{"id":"g50","day":60,"cases":12},{"id":"g50","day":65,"cases":9},{"id":"g50","day":70,"cases":13},{"id":"g50","day":75,"cases":10},{"id":"g50","day":80,"cases":7.5},{"id":"g50","day":85,"cases":10.5},{"id":"g50","day":90,"cases":8},{"id":"g50","day":95,"cases":6},{"id":"g50","day":100,"cases":8.5},{"id":"g50","day":105,"cases":6.5},{"id":"g50","day":110,"cases":9},{"id":"g50","day":115,"cases":7},{"id":"g50","day":120,"cases":5.2},{"id":"g50","day":125,"cases":7.5},{"id":"g50","day":130,"cases":5.8},{"id":"g50","day":135,"cases":8},{"id":"g50","day":140,"cases":6},
      {"id":"g51","day":0,"cases":1.1},{"id":"g51","day":6,"cases":1.7},{"id":"g51","day":12,"cases":2.6},{"id":"g51","day":18,"cases":2.1},{"id":"g51","day":24,"cases":3.3},{"id":"g51","day":30,"cases":2.7},{"id":"g51","day":36,"cases":4},{"id":"g51","day":42,"cases":3.2},{"id":"g51","day":48,"cases":5},{"id":"g51","day":54,"cases":4},{"id":"g51","day":60,"cases":6.2},{"id":"g51","day":66,"cases":5},{"id":"g51","day":72,"cases":7.5},{"id":"g51","day":78,"cases":6},{"id":"g51","day":84,"cases":9},{"id":"g51","day":90,"cases":7.2},{"id":"g51","day":96,"cases":10.5},{"id":"g51","day":102,"cases":8.5},{"id":"g51","day":108,"cases":12},{"id":"g51","day":114,"cases":9.5},{"id":"g51","day":120,"cases":13},{"id":"g51","day":126,"cases":10.5},{"id":"g51","day":132,"cases":14},{"id":"g51","day":138,"cases":11},{"id":"g51","day":144,"cases":15},{"id":"g51","day":150,"cases":12},{"id":"g51","day":156,"cases":9.5},{"id":"g51","day":162,"cases":12.5},{"id":"g51","day":168,"cases":10},{"id":"g51","day":174,"cases":8},{"id":"g51","day":180,"cases":10},{"id":"g51","day":186,"cases":7.5},{"id":"g51","day":192,"cases":6},{"id":"g51","day":198,"cases":7.5},{"id":"g51","day":204,"cases":5.5},{"id":"g51","day":210,"cases":4},
      {"id":"g52","day":0,"cases":1.4},{"id":"g52","day":4,"cases":3},{"id":"g52","day":8,"cases":5.5},{"id":"g52","day":12,"cases":9},{"id":"g52","day":16,"cases":7},{"id":"g52","day":20,"cases":11},{"id":"g52","day":24,"cases":8.5},{"id":"g52","day":28,"cases":13},{"id":"g52","day":32,"cases":10},{"id":"g52","day":36,"cases":7.5},{"id":"g52","day":40,"cases":10},{"id":"g52","day":44,"cases":7.5},{"id":"g52","day":48,"cases":5.5},{"id":"g52","day":52,"cases":8},{"id":"g52","day":56,"cases":6},{"id":"g52","day":60,"cases":4.5},{"id":"g52","day":64,"cases":6.2},{"id":"g52","day":68,"cases":4.6},{"id":"g52","day":72,"cases":3.4},{"id":"g52","day":76,"cases":4.8},{"id":"g52","day":80,"cases":3.5},{"id":"g52","day":84,"cases":2.6},{"id":"g52","day":88,"cases":3.6},{"id":"g52","day":92,"cases":2.6},{"id":"g52","day":96,"cases":1.9},{"id":"g52","day":100,"cases":2.6},{"id":"g52","day":104,"cases":1.9},{"id":"g52","day":108,"cases":1.4},
      {"id":"g53","day":0,"cases":1.2},{"id":"g53","day":5,"cases":2},{"id":"g53","day":10,"cases":3.4},{"id":"g53","day":15,"cases":2.7},{"id":"g53","day":20,"cases":4.3},{"id":"g53","day":25,"cases":6.5},{"id":"g53","day":30,"cases":5.2},{"id":"g53","day":35,"cases":7.8},{"id":"g53","day":40,"cases":11},{"id":"g53","day":45,"cases":8.8},{"id":"g53","day":50,"cases":12.5},{"id":"g53","day":55,"cases":16},{"id":"g53","day":60,"cases":13},{"id":"g53","day":65,"cases":17},{"id":"g53","day":70,"cases":21},{"id":"g53","day":75,"cases":17},{"id":"g53","day":80,"cases":13.5},{"id":"g53","day":85,"cases":17},{"id":"g53","day":90,"cases":13},{"id":"g53","day":95,"cases":10},{"id":"g53","day":100,"cases":13},{"id":"g53","day":105,"cases":16.5},{"id":"g53","day":110,"cases":13},{"id":"g53","day":115,"cases":10.5},{"id":"g53","day":120,"cases":13.5},{"id":"g53","day":125,"cases":17},{"id":"g53","day":130,"cases":21},{"id":"g53","day":135,"cases":17},{"id":"g53","day":140,"cases":22},{"id":"g53","day":145,"cases":27},{"id":"g53","day":150,"cases":22},{"id":"g53","day":155,"cases":28},{"id":"g53","day":160,"cases":34},{"id":"g53","day":165,"cases":28},{"id":"g53","day":170,"cases":35},
      {"id":"g54","day":0,"cases":1.3},{"id":"g54","day":3,"cases":2.2},{"id":"g54","day":6,"cases":3.6},{"id":"g54","day":9,"cases":5.5},{"id":"g54","day":12,"cases":4.5},{"id":"g54","day":15,"cases":7},{"id":"g54","day":18,"cases":5.8},{"id":"g54","day":21,"cases":8.5},{"id":"g54","day":24,"cases":7},{"id":"g54","day":27,"cases":5.5},{"id":"g54","day":30,"cases":7.5},{"id":"g54","day":33,"cases":6},{"id":"g54","day":36,"cases":4.5},{"id":"g54","day":39,"cases":6},{"id":"g54","day":42,"cases":4.6},{"id":"g54","day":45,"cases":3.5},{"id":"g54","day":48,"cases":4.8},{"id":"g54","day":51,"cases":3.6},{"id":"g54","day":54,"cases":2.7},{"id":"g54","day":57,"cases":3.6},{"id":"g54","day":60,"cases":2.7},{"id":"g54","day":63,"cases":2},{"id":"g54","day":66,"cases":2.6},{"id":"g54","day":69,"cases":1.9},{"id":"g54","day":72,"cases":1.5},
      {"id":"g55","day":0,"cases":1.2},{"id":"g55","day":8,"cases":2.2},{"id":"g55","day":16,"cases":4},{"id":"g55","day":24,"cases":3.2},{"id":"g55","day":32,"cases":5.5},{"id":"g55","day":40,"cases":4.3},{"id":"g55","day":48,"cases":7},{"id":"g55","day":56,"cases":5.5},{"id":"g55","day":64,"cases":8.5},{"id":"g55","day":72,"cases":6.5},{"id":"g55","day":80,"cases":9.5},{"id":"g55","day":88,"cases":7.5},{"id":"g55","day":96,"cases":5.8},{"id":"g55","day":104,"cases":8},{"id":"g55","day":112,"cases":6.2},{"id":"g55","day":120,"cases":4.8},{"id":"g55","day":128,"cases":6.5},{"id":"g55","day":136,"cases":5},{"id":"g55","day":144,"cases":3.8},{"id":"g55","day":152,"cases":5},{"id":"g55","day":160,"cases":3.8},{"id":"g55","day":168,"cases":2.9},{"id":"g55","day":176,"cases":3.8},{"id":"g55","day":184,"cases":2.8},{"id":"g55","day":192,"cases":2.1},{"id":"g55","day":200,"cases":2.8},{"id":"g55","day":208,"cases":2},
      {"id":"g56","day":0,"cases":1.5},{"id":"g56","day":4,"cases":3.5},{"id":"g56","day":8,"cases":7},{"id":"g56","day":12,"cases":12},{"id":"g56","day":16,"cases":10},{"id":"g56","day":20,"cases":15},{"id":"g56","day":24,"cases":12},{"id":"g56","day":28,"cases":17},{"id":"g56","day":32,"cases":13},{"id":"g56","day":36,"cases":18},{"id":"g56","day":40,"cases":14},{"id":"g56","day":44,"cases":11},{"id":"g56","day":48,"cases":15},{"id":"g56","day":52,"cases":11.5},{"id":"g56","day":56,"cases":9},{"id":"g56","day":60,"cases":12},{"id":"g56","day":64,"cases":9.5},{"id":"g56","day":68,"cases":7},{"id":"g56","day":72,"cases":9.5},{"id":"g56","day":76,"cases":7.2},{"id":"g56","day":80,"cases":5.5},{"id":"g56","day":84,"cases":7.5},{"id":"g56","day":88,"cases":5.8},{"id":"g56","day":92,"cases":4.3},{"id":"g56","day":96,"cases":6},{"id":"g56","day":100,"cases":4.5},{"id":"g56","day":104,"cases":6.2},{"id":"g56","day":108,"cases":8.5},{"id":"g56","day":112,"cases":6.5},{"id":"g56","day":116,"cases":9},{"id":"g56","day":120,"cases":12},{"id":"g56","day":124,"cases":9.5},{"id":"g56","day":128,"cases":13},{"id":"g56","day":132,"cases":10},{"id":"g56","day":136,"cases":14},{"id":"g56","day":140,"cases":18},{"id":"g56","day":144,"cases":14},{"id":"g56","day":148,"cases":19},{"id":"g56","day":152,"cases":24},{"id":"g56","day":156,"cases":19},{"id":"g56","day":160,"cases":25},
      {"id":"g57","day":0,"cases":1.2},{"id":"g57","day":10,"cases":1.6},{"id":"g57","day":20,"cases":2.3},{"id":"g57","day":30,"cases":1.9},{"id":"g57","day":40,"cases":2.8},{"id":"g57","day":50,"cases":2.2},{"id":"g57","day":60,"cases":3.3},{"id":"g57","day":70,"cases":2.6},{"id":"g57","day":80,"cases":3.8},{"id":"g57","day":90,"cases":3},{"id":"g57","day":100,"cases":4.4},{"id":"g57","day":110,"cases":3.5},{"id":"g57","day":120,"cases":5},{"id":"g57","day":130,"cases":4},{"id":"g57","day":140,"cases":3.1},{"id":"g57","day":150,"cases":4.2},{"id":"g57","day":160,"cases":3.3},{"id":"g57","day":170,"cases":2.5},{"id":"g57","day":180,"cases":3.3},{"id":"g57","day":190,"cases":2.5},{"id":"g57","day":200,"cases":1.9},{"id":"g57","day":210,"cases":1.5},
      {"id":"g58","day":0,"cases":1.3},{"id":"g58","day":5,"cases":2.8},{"id":"g58","day":10,"cases":5.5},{"id":"g58","day":15,"cases":10},{"id":"g58","day":20,"cases":8},{"id":"g58","day":25,"cases":13},{"id":"g58","day":30,"cases":18},{"id":"g58","day":35,"cases":14},{"id":"g58","day":40,"cases":19},{"id":"g58","day":45,"cases":25},{"id":"g58","day":50,"cases":20},{"id":"g58","day":55,"cases":26},{"id":"g58","day":60,"cases":33},{"id":"g58","day":65,"cases":27},{"id":"g58","day":70,"cases":21},{"id":"g58","day":75,"cases":27},{"id":"g58","day":80,"cases":34},{"id":"g58","day":85,"cases":27},{"id":"g58","day":90,"cases":21},{"id":"g58","day":95,"cases":16},{"id":"g58","day":100,"cases":21},{"id":"g58","day":105,"cases":16},{"id":"g58","day":110,"cases":12},{"id":"g58","day":115,"cases":16},{"id":"g58","day":120,"cases":12},{"id":"g58","day":125,"cases":9},{"id":"g58","day":130,"cases":12},{"id":"g58","day":135,"cases":9},
      {"id":"g59","day":0,"cases":1.1},{"id":"g59","day":5,"cases":1.5},{"id":"g59","day":10,"cases":2.2},{"id":"g59","day":15,"cases":3},{"id":"g59","day":20,"cases":2.4},{"id":"g59","day":25,"cases":3.4},{"id":"g59","day":30,"cases":4.6},{"id":"g59","day":35,"cases":3.7},{"id":"g59","day":40,"cases":5.2},{"id":"g59","day":45,"cases":4.1},{"id":"g59","day":50,"cases":5.8},{"id":"g59","day":55,"cases":8},{"id":"g59","day":60,"cases":6.3},{"id":"g59","day":65,"cases":8.8},{"id":"g59","day":70,"cases":12},{"id":"g59","day":75,"cases":9.5},{"id":"g59","day":80,"cases":13},{"id":"g59","day":85,"cases":10},{"id":"g59","day":90,"cases":14},{"id":"g59","day":95,"cases":18},{"id":"g59","day":100,"cases":14},{"id":"g59","day":105,"cases":19},{"id":"g59","day":110,"cases":25},{"id":"g59","day":115,"cases":20},{"id":"g59","day":120,"cases":27},{"id":"g59","day":125,"cases":35},{"id":"g59","day":130,"cases":28},{"id":"g59","day":135,"cases":37},{"id":"g59","day":140,"cases":48},{"id":"g59","day":145,"cases":38},{"id":"g59","day":150,"cases":50},{"id":"g59","day":155,"cases":65},{"id":"g59","day":160,"cases":52},{"id":"g59","day":165,"cases":68},{"id":"g59","day":170,"cases":88},
      {"id":"g60","day":0,"cases":1.4},{"id":"g60","day":4,"cases":2.4},{"id":"g60","day":8,"cases":4},{"id":"g60","day":12,"cases":3.2},{"id":"g60","day":16,"cases":5},{"id":"g60","day":20,"cases":4},{"id":"g60","day":24,"cases":6.2},{"id":"g60","day":28,"cases":4.8},{"id":"g60","day":32,"cases":3.6},{"id":"g60","day":36,"cases":5},{"id":"g60","day":40,"cases":3.8},{"id":"g60","day":44,"cases":2.8},{"id":"g60","day":48,"cases":3.8},{"id":"g60","day":52,"cases":2.8},{"id":"g60","day":56,"cases":3.8},{"id":"g60","day":60,"cases":5},{"id":"g60","day":64,"cases":3.8},{"id":"g60","day":68,"cases":5.2},{"id":"g60","day":72,"cases":7},{"id":"g60","day":76,"cases":5.4},{"id":"g60","day":80,"cases":7.5},{"id":"g60","day":84,"cases":5.8},{"id":"g60","day":88,"cases":4.4},{"id":"g60","day":92,"cases":6},{"id":"g60","day":96,"cases":4.5},{"id":"g60","day":100,"cases":6.2},{"id":"g60","day":104,"cases":8.5},{"id":"g60","day":108,"cases":6.5},{"id":"g60","day":112,"cases":9},{"id":"g60","day":116,"cases":7},{"id":"g60","day":120,"cases":5.2},
      {"id":"g61","day":0,"cases":1.2},{"id":"g61","day":6,"cases":2.4},{"id":"g61","day":12,"cases":4.6},{"id":"g61","day":18,"cases":8.5},{"id":"g61","day":24,"cases":15},{"id":"g61","day":30,"cases":13},{"id":"g61","day":36,"cases":20},{"id":"g61","day":42,"cases":16},{"id":"g61","day":48,"cases":22},{"id":"g61","day":54,"cases":18},{"id":"g61","day":60,"cases":14},{"id":"g61","day":66,"cases":19},{"id":"g61","day":72,"cases":15},{"id":"g61","day":78,"cases":21},{"id":"g61","day":84,"cases":28},{"id":"g61","day":90,"cases":23},{"id":"g61","day":96,"cases":30},{"id":"g61","day":102,"cases":38},{"id":"g61","day":108,"cases":31},{"id":"g61","day":114,"cases":40},{"id":"g61","day":120,"cases":50},{"id":"g61","day":126,"cases":41},{"id":"g61","day":132,"cases":52},{"id":"g61","day":138,"cases":64},{"id":"g61","day":144,"cases":52},{"id":"g61","day":150,"cases":66},{"id":"g61","day":156,"cases":80},{"id":"g61","day":162,"cases":66},{"id":"g61","day":168,"cases":82},{"id":"g61","day":174,"cases":100},{"id":"g61","day":180,"cases":84},{"id":"g61","day":186,"cases":105},
      {"id":"g62","day":0,"cases":1.3},{"id":"g62","day":10,"cases":2.5},{"id":"g62","day":20,"cases":4.5},{"id":"g62","day":30,"cases":3.6},{"id":"g62","day":40,"cases":5.8},{"id":"g62","day":50,"cases":4.6},{"id":"g62","day":60,"cases":7},{"id":"g62","day":70,"cases":5.5},{"id":"g62","day":80,"cases":4.2},{"id":"g62","day":90,"cases":5.8},{"id":"g62","day":100,"cases":4.4},{"id":"g62","day":110,"cases":3.3},{"id":"g62","day":120,"cases":4.5},{"id":"g62","day":130,"cases":6.2},{"id":"g62","day":140,"cases":4.8},{"id":"g62","day":150,"cases":6.8},{"id":"g62","day":160,"cases":9.5},{"id":"g62","day":170,"cases":7.5},{"id":"g62","day":180,"cases":10.5},{"id":"g62","day":190,"cases":8},{"id":"g62","day":200,"cases":6},{"id":"g62","day":210,"cases":4.5},{"id":"g62","day":215,"cases":3},
      {"id":"g63","day":0,"cases":1.2},{"id":"g63","day":3,"cases":1.8},{"id":"g63","day":6,"cases":2.7},{"id":"g63","day":9,"cases":4},{"id":"g63","day":12,"cases":3.2},{"id":"g63","day":15,"cases":4.8},{"id":"g63","day":18,"cases":3.8},{"id":"g63","day":21,"cases":5.5},{"id":"g63","day":24,"cases":4.3},{"id":"g63","day":27,"cases":6.2},{"id":"g63","day":30,"cases":8.5},{"id":"g63","day":33,"cases":6.6},{"id":"g63","day":36,"cases":9},{"id":"g63","day":39,"cases":7},{"id":"g63","day":42,"cases":5.4},{"id":"g63","day":45,"cases":7.2},{"id":"g63","day":48,"cases":5.6},{"id":"g63","day":51,"cases":4.3},{"id":"g63","day":54,"cases":5.8},{"id":"g63","day":57,"cases":4.4},{"id":"g63","day":60,"cases":3.4},{"id":"g63","day":63,"cases":4.6},{"id":"g63","day":66,"cases":3.5},{"id":"g63","day":69,"cases":2.7},{"id":"g63","day":72,"cases":3.6},{"id":"g63","day":75,"cases":2.7},{"id":"g63","day":78,"cases":2.1},{"id":"g63","day":81,"cases":2.8},{"id":"g63","day":84,"cases":2.1},{"id":"g63","day":87,"cases":1.6},
      {"id":"g64","day":0,"cases":1.4},{"id":"g64","day":5,"cases":3.8},{"id":"g64","day":10,"cases":9},{"id":"g64","day":15,"cases":18},{"id":"g64","day":20,"cases":32},{"id":"g64","day":25,"cases":48},{"id":"g64","day":30,"cases":62},{"id":"g64","day":35,"cases":55},{"id":"g64","day":40,"cases":45},{"id":"g64","day":45,"cases":52},{"id":"g64","day":50,"cases":42},{"id":"g64","day":55,"cases":34},{"id":"g64","day":60,"cases":40},{"id":"g64","day":65,"cases":32},{"id":"g64","day":70,"cases":26},{"id":"g64","day":75,"cases":31},{"id":"g64","day":80,"cases":25},{"id":"g64","day":85,"cases":20},{"id":"g64","day":90,"cases":24},{"id":"g64","day":95,"cases":19},{"id":"g64","day":100,"cases":15},{"id":"g64","day":105,"cases":18},{"id":"g64","day":110,"cases":14},{"id":"g64","day":115,"cases":11},{"id":"g64","day":120,"cases":13.5},{"id":"g64","day":125,"cases":10.5},{"id":"g64","day":130,"cases":13},{"id":"g64","day":135,"cases":16},{"id":"g64","day":140,"cases":13},{"id":"g64","day":145,"cases":17},{"id":"g64","day":150,"cases":21},{"id":"g64","day":155,"cases":17},{"id":"g64","day":160,"cases":22},{"id":"g64","day":165,"cases":28},{"id":"g64","day":170,"cases":23},{"id":"g64","day":175,"cases":30},{"id":"g64","day":180,"cases":38},{"id":"g64","day":185,"cases":31},{"id":"g64","day":190,"cases":40}
    ]
  },
  "vconcat": [
    {
      "title": {
        "text": "Daily new confirmed COVID-19 cases per million people",
        "subtitle": ["Shown is the rolling 7-day average. The number of confirmed cases is lower than the number of actual cases; the", "main reason for that is limited testing."],
        "anchor": "start", "frame": "bounds",
        "font": "Liberation Serif", "fontSize": 32.5, "fontWeight": "normal", "color": "#555",
        "subtitleFont": "Liberation Sans", "subtitleFontSize": 17, "subtitleColor": "#666",
        "subtitleLineHeight": 21, "subtitlePadding": 4, "offset": 8
      },
      "width": 774,
      "height": 494,
      "resolve": {"legend": {"color": "independent"}},
      "layer": [
        {
          "data": {"name": "others"},
          "mark": {"type": "line", "stroke": "#d6d6d6", "strokeWidth": 1},
          "encoding": {
            "x": {
              "field": "day", "type": "quantitative",
              "scale": {"domain": [0, 227], "nice": false, "zero": false},
              "axis": {
                "values": [0, 50, 100, 150, 200], "grid": true, "gridColor": "#d9d9d9", "gridDash": [4, 3],
                "domain": false, "ticks": false, "labelFontSize": 18, "labelColor": "#666", "labelPadding": 5,
                "title": "Days since the total confirmed cases per million people reached 1",
                "titleFontSize": 13.5, "titleFontWeight": "normal", "titleColor": "#333", "titlePadding": 9, "titleX": 354
              }
            },
            "y": {
              "field": "cases", "type": "quantitative",
              "scale": {"type": "log", "domain": [0.92, 305], "nice": false},
              "axis": {
                "values": [1, 2, 3, 4, 5, 6, 7, 8, 9, 10, 20, 30, 40, 50, 60, 70, 80, 90, 100, 200, 300],
                "format": "d",
                "labelExpr": "indexof([2, 5, 10, 20, 50, 100, 200], datum.value) >= 0 ? datum.label : ''",
                "grid": true,
                "gridColor": {"condition": {"test": "indexof([2, 5, 10, 20, 50, 100, 200], datum.value) >= 0", "value": "#d4d4d4"}, "value": "#e8e8e8"},
                "gridDash": [4, 3],
                "domain": true, "domainColor": "#d0d0d0", "ticks": false,
                "labelFontSize": 18, "labelColor": "#666", "labelPadding": 7,
                "title": "Daily new confirmed COVID-19 cases per million people",
                "titleFontSize": 13.5, "titleFontWeight": "normal", "titleColor": "#333", "titlePadding": 14
              }
            },
            "detail": {"field": "id"}
          }
        },
        {
          "data": {"name": "highlight"},
          "mark": {"type": "line", "strokeWidth": 2, "strokeJoin": "round", "strokeCap": "round"},
          "encoding": {
            "x": {"field": "day", "type": "quantitative", "scale": {"domain": [0, 227], "nice": false, "zero": false}},
            "y": {"field": "cases", "type": "quantitative", "scale": {"type": "log", "domain": [0.92, 305], "nice": false}},
            "color": {
              "field": "rate", "type": "nominal",
              "scale": {
                "domain": ["<0.1% of tests", "0.1% - 1%", "1% - 2%", "2% - 3%", "3% - 5%", "5% - 10%", "10% - 20%", "more than 20%", "no testing data"],
                "range": ["#c8c8c8", "#334560", "#4f6ea6", "#7b9bd6", "#fba75b", "#f0823a", "#e5322d", "#b50f25", "#999999"]
              },
              "legend": null
            },
            "detail": [{"field": "country"}, {"field": "part"}]
          }
        },
        {
          "data": {"name": "highlight"},
          "transform": [{"filter": {"field": "day", "equal": 0}}],
          "mark": {"type": "circle", "size": 30, "opacity": 1},
          "encoding": {
            "x": {"field": "day", "type": "quantitative", "scale": {"domain": [0, 227], "nice": false, "zero": false}},
            "y": {"field": "cases", "type": "quantitative", "scale": {"type": "log", "domain": [0.92, 305], "nice": false}},
            "color": {
              "field": "rate", "type": "nominal",
              "legend": {
                "title": "Positive rate", "orient": "right", "offset": 20, "padding": 12,
                "symbolType": "square", "symbolSize": 165, "symbolStrokeWidth": 0, "symbolOpacity": 1,
                "labelFontSize": 14.5, "labelOffset": 7, "rowPadding": 6.3,
                "titleFontSize": 15, "titleColor": "#222", "titleFontWeight": "bold", "titlePadding": 9,
                "encode": {"labels": {"update": {"fill": {"signal": "datum.label === '<0.1% of tests' ? '#c4c4c4' : '#333'"}}}}
              }
            }
          }
        },
        {
          "data": {"name": "highlight"},
          "transform": [
            {"joinaggregate": [{"op": "max", "field": "day", "as": "lastDay"}], "groupby": ["country"]},
            {"filter": "datum.day === datum.lastDay && datum.country !== 'Italy' && datum.country !== 'Belgium'"}
          ],
          "mark": {"type": "point", "shape": "triangle-up", "filled": true, "size": 55, "angle": 55, "opacity": 1},
          "encoding": {
            "x": {"field": "day", "type": "quantitative", "scale": {"domain": [0, 227], "nice": false, "zero": false}},
            "y": {"field": "cases", "type": "quantitative", "scale": {"type": "log", "domain": [0.92, 305], "nice": false}},
            "color": {"field": "rate", "type": "nominal", "legend": null}
          }
        },
        {
          "data": {"name": "highlight"},
          "transform": [
            {"joinaggregate": [{"op": "max", "field": "day", "as": "lastDay"}], "groupby": ["country"]},
            {"filter": "datum.day === datum.lastDay && datum.country === 'Spain'"}
          ],
          "mark": {"type": "text", "align": "left", "baseline": "middle", "dx": 5, "dy": 1, "fontSize": 14.5, "fontWeight": "bold"},
          "encoding": {
            "x": {"field": "day", "type": "quantitative"},
            "y": {"field": "cases", "type": "quantitative"},
            "text": {"field": "country"},
            "color": {"field": "rate", "type": "nominal", "legend": null}
          }
        },
        {
          "data": {"name": "highlight"},
          "transform": [
            {"joinaggregate": [{"op": "max", "field": "day", "as": "lastDay"}], "groupby": ["country"]},
            {"filter": "datum.day === datum.lastDay && datum.country === 'France'"}
          ],
          "mark": {"type": "text", "align": "left", "baseline": "middle", "dx": 6, "dy": 10, "fontSize": 14.5, "fontWeight": "bold"},
          "encoding": {
            "x": {"field": "day", "type": "quantitative"},
            "y": {"field": "cases", "type": "quantitative"},
            "text": {"field": "country"},
            "color": {"field": "rate", "type": "nominal", "legend": null}
          }
        },
        {
          "data": {"name": "highlight"},
          "transform": [
            {"joinaggregate": [{"op": "max", "field": "day", "as": "lastDay"}], "groupby": ["country"]},
            {"filter": "datum.day === datum.lastDay && datum.country === 'United Kingdom'"}
          ],
          "mark": {"type": "text", "align": "left", "baseline": "middle", "dx": 3, "dy": -9, "fontSize": 14.5, "fontWeight": "bold"},
          "encoding": {
            "x": {"field": "day", "type": "quantitative"},
            "y": {"field": "cases", "type": "quantitative"},
            "text": {"field": "country"},
            "color": {"field": "rate", "type": "nominal", "legend": null}
          }
        },
        {
          "data": {"name": "highlight"},
          "transform": [
            {"joinaggregate": [{"op": "max", "field": "day", "as": "lastDay"}], "groupby": ["country"]},
            {"filter": "datum.day === datum.lastDay && datum.country === 'Canada'"}
          ],
          "mark": {"type": "text", "align": "left", "baseline": "middle", "dx": 5, "dy": -8, "fontSize": 14.5, "fontWeight": "bold"},
          "encoding": {
            "x": {"field": "day", "type": "quantitative"},
            "y": {"field": "cases", "type": "quantitative"},
            "text": {"field": "country"},
            "color": {"field": "rate", "type": "nominal", "legend": null}
          }
        },
        {
          "data": {"name": "highlight"},
          "transform": [
            {"joinaggregate": [{"op": "max", "field": "day", "as": "lastDay"}], "groupby": ["country"]},
            {"filter": "datum.day === datum.lastDay && datum.country === 'Italy'"}
          ],
          "mark": {"type": "text", "align": "left", "baseline": "middle", "dx": 33, "dy": -15, "fontSize": 14.5, "fontWeight": "bold"},
          "encoding": {
            "x": {"field": "day", "type": "quantitative"},
            "y": {"field": "cases", "type": "quantitative"},
            "text": {"field": "country"},
            "color": {"field": "rate", "type": "nominal", "legend": null}
          }
        },
        {
          "data": {"name": "highlight"},
          "transform": [
            {"joinaggregate": [{"op": "max", "field": "day", "as": "lastDay"}], "groupby": ["country"]},
            {"filter": "datum.day === datum.lastDay && datum.country === 'Germany'"}
          ],
          "mark": {"type": "text", "align": "left", "baseline": "middle", "dx": 4, "dy": -8, "fontSize": 14.5, "fontWeight": "bold"},
          "encoding": {
            "x": {"field": "day", "type": "quantitative"},
            "y": {"field": "cases", "type": "quantitative"},
            "text": {"field": "country"},
            "color": {"field": "rate", "type": "nominal", "legend": null}
          }
        },
        {
          "data": {"name": "highlight"},
          "transform": [{"filter": "datum.country === 'Canada' && datum.day === 0"}],
          "mark": {"type": "text", "align": "left", "baseline": "middle", "dx": 3, "dy": 1, "fontSize": 9.5, "color": "#4f6ea6"},
          "encoding": {
            "x": {"field": "day", "type": "quantitative"},
            "y": {"field": "cases", "type": "quantitative"},
            "text": {"value": "1.31 cases"}
          }
        }
      ]
    }
  ]
}
